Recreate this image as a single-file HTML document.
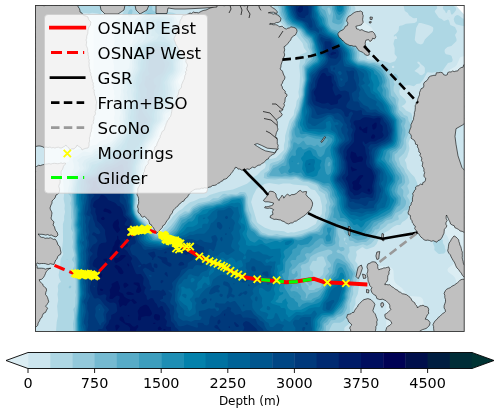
<!DOCTYPE html>
<html><head><meta charset="utf-8"><style>
html,body{margin:0;padding:0;background:#fff;}
body{width:500px;height:413px;overflow:hidden;}
svg{display:block;font-family:"DejaVu Sans","Liberation Sans",sans-serif;}
</style></head><body>
<svg width="500" height="413" viewBox="0 0 500 413">
<defs><clipPath id="mc"><rect x="35.5" y="5.5" width="428.7" height="326"/></clipPath></defs>
<g clip-path="url(#mc)">
<rect x="30" y="0" width="440" height="340" fill="#dbedf3"/>
<path d="M72 0l36.6 0l0.3 10l1.1 2.1l2 0.6l5 -1l2.6 -1.7l0.7 -2l0.1 -8l39.2 0l0 6l0.6 2l1.8 1.1l6 0.3l3.5 -0.4l1.5 -1l0.7 -2l0.1 -6l42.4 0l-0.1 9l-0.9 3l-1.2 1.6l-6 4.4l-3.4 5l-2.2 2l-3.4 1.7l-8 2.1l-2 2.2l-0.4 7l1 14l-0.2 18l-0.6 3l-1.3 3l-4.5 3.7l-0.4 1.3l4.6 5l0.9 3l-0.5 4l-1.6 2.8l-5 4.1l-2.3 10.1l-2.1 5l-5.6 4.8l-3 7.4l-6.2 3.8l-0.8 1.7l-1.8 9.3l-1.6 4l-1.6 1.5l-4 2.4l-1 1.8l-1.9 30.3l-1.6 4l-4.5 3.8l-0.8 2.2l1 15l0.8 2.3l6.4 3.7l7.6 7.5l2 -0.4l3 -2.5l9.5 -13.6l14.5 -14.1l10 -5.2l12.1 -2.7l8.9 -3l3 -2l4 -4l5 -3l3.4 -5l2.3 -2l4.3 -1.3l8 -0.3l3 -0.8l2.4 -1.6l7.6 -7.3l1.8 -8.7l0.2 -8l0.8 -5l0.2 -8l0.8 -5l0.2 -8l0.8 -5l0.1 -7l3.2 -39l1.1 -2l1.8 -0.9l7 -0.4l2.8 -0.7l1.3 -1l0.6 -2l-0.1 -18l-0.9 -2l-7.4 -8l-3 -5l-1.7 -7l-0.2 -11l199.6 0l0 56.2l-8 0.2l-2 1.1l-3.3 7.5l-1.7 1.7l-5 2.7l-3.3 5.6l-2.3 2l-3.4 1.2l-9 0.5l-2 0.7l-1.2 1.6l-1.8 7l-1.8 4l-2.2 2.6l-4.8 3.4l-0.7 2l1.5 2.8l5 3.6l1.5 3.6l-1 3l-4.2 4l-1.3 2.5l-0.5 10.5l-1.4 10l1.9 2.9l5.5 4.1l1.4 3l0.3 4l-0.1 35l-1.5 4l-3.6 3.5l-2 3.4l-0.4 4.1l0.4 6.5l1 2.2l4 3.6l1.6 2.7l0.8 10l1.6 2.9l3 1.1l9 -1.2l5 1.6l2.2 2.6l2.8 6.3l4.6 4.7l1.5 4l0 7l-1 4l-2.1 2.6l-4.8 3.4l-0.8 2l0.8 2l4.8 3.5l2.1 2.5l1 3l0.1 6l-0.3 3l-1.4 3l-6.5 5l-1.5 3l-0.3 36l-22.4 0l-0 -33l-0.8 -4.5l-1.1 -1.5l-1.9 -1.2l-10 -0.9l-3.6 -1.9l-4.4 -6l-5 -3.4l-2.2 -2.6l-0.9 -3l-0.4 -8l-0.8 -2l-2.7 -2.3l-4 -0.5l-13 0.1l-3 0.5l-1.9 1.2l-1.1 1.5l-0.8 5.5l0.3 4l1.5 3l5.6 4l4.4 6l5.6 4l2 3l0.6 5l0 33l-12.4 0l-0.1 -23l-0.5 -4l-1.2 -1.9l-2 -1.3l-5 -0.6l-4 0.8l-1.6 2l-0.7 3l-0.3 8l-0.7 3l-1.9 3l-6.2 4l-0.8 2l-0.1 5l-318.7 0l0 -193.2l38 -0.1l10 -2l11.7 -0.7l3.1 -2l0.8 -2l0.1 -114l-0.7 -2l-2.9 -2l-11.1 -0.8l-3 -1l-1.7 -1.2l-1.9 -3l-0.8 -3l-0.2 -10zM359.2 18l-2.4 2l-6.1 8l-0.7 3.1l1 6.7l2 1.6l8 2l8 1.6l2 -0.4l1.8 -1.6l0.8 -2l0.2 -6l-0.6 -3l-2.2 -2.9l-4.6 -3.1l-4.4 -5.7l-1 -0.5zM461 123.9l9 -0.2l0 52.5l-8 -0l-3 -0.6l-3.5 -2.6l-1.5 -3.7l-0.1 -38.3l1 -3l1.1 -1.6l2 -1.5z" fill="#cce5ee"/>
<path d="M77 0l26.5 0l-0.4 7l-2.1 6.9l-1 0.5l-2 -1l-6 -0.7l-3 0.9l-4 -0.6l-3 0.6l-2 -0.5l-0.7 -1.1l-0.3 -2.3l-2.2 -2.7zM125 0l11.5 0l0 3l-0.9 4l0.4 2.9l2 2.8l2 0.6l2 -0.9l2.4 -3.4l0.3 -2l-0.7 -3l0.9 -4l11.6 0l-0.4 8l0.9 1.8l1.5 1.2l14.5 1.8l4 1.4l5 0.9l2 0l5 -1.3l1.5 1.2l2.2 5l-0.6 2l-2.1 1.4l-3 1.2l-3 -0.8l-0.5 1.2l0.4 14l-0.6 3l1.5 5l0.8 6l-0.3 17l-0.9 3l-4.4 4.4l-2 3.6l0 1.2l2.7 4.8l1 3l-0.1 2l-3.1 4l-3 10l-4 7l-2.5 3l-1 4l-3.7 5l-4.3 4.1l-2.2 6.9l-1.9 4l-6.6 9l-1.2 4l-1.8 13l-0 5l-0.9 3l0.3 4l-2.7 4.7l-5 2.2l-1.4 3.1l-0.3 4l0.8 7l-0.6 8l2.5 7.3l1.9 2.7l6.1 5.3l7.2 8.7l2.8 1.5l4 -0.8l2.5 -3.7l3 -3l1.4 -3l3.1 -2.7l2 -3l6 -5.5l3.1 -1.8l2.9 -3l5 -3.8l4 -1.1l6 -2.8l6 -0.9l3.6 -2.4l10.4 -3.3l13 -2.1l14 -5.8l4 -3.2l2.7 -3.6l3.5 -2l3.8 -4l4 -2.9l0.9 -3.1l-1.7 -4l0.3 -1l1.5 -0.9l5 -0l5 -1.4l7.9 -7.7l-0 -5l1.1 -4l0.1 -5l3.9 -14l0.8 -2l3.9 -5l0.7 -5l1.6 -4.1l0.6 -4.9l2.5 -4l-0.7 -5l1 -5l0.7 -12l-0.9 -9l0.8 -5l-0.3 -5l0.3 -1l6.7 -3l-0.2 -1l-2.5 -3l-1.5 -5l-5.7 -7l-2.2 -4l-2.6 -2.2l-5 -1.1l-2 -1.2l-4.5 -5.5l-2.2 -4l-2.4 -3l-2.1 -9l0.7 -6l80.5 0l-1.7 4l2.1 4l-0.1 2l-4.3 6.4l-3 6.1l-1.9 5.5l2.4 11l2.5 2.8l5 1.7l7 6.4l3 1.6l1 2.5l-0.5 4l0.7 1l1.8 0.5l11 0.5l10 3l5 -1.7l1.8 -3.3l0.2 -1l-2.4 -3l0.1 -6l-1.3 -4l0.9 -4l0.7 -0.9l2 0l0.2 -1.1l-1.2 -2.5l-2 1.2l-0.2 -0.7l0.2 -1.1l2 -1.1l2 -2.2l0.7 -1.6l0.3 -3.4l1 -0.8l2 -0.2l4 -1.9l8.3 -0.7l2 -1l0.7 -1.3l0 -2.8l-3 0.4l-1 -0.4l-4 -2.7l-1.2 -2.2l-3 -2l-1.4 -6l1.1 -5l8 0l1.5 0.7l1.8 -0.7l19.9 0l-0.1 3l1.7 5l-2.5 3l0.1 1l4.1 5.9l2.7 1.1l2.3 2.1l4 -1.6l1 1.1l1.3 4.4l4.7 2l1.9 4l0 1l-1.9 3l1.5 4l0 2l-5.1 5l-3.9 1l-2.5 2.3l-0.5 1.7l0.5 2.1l1 1.2l4 0.7l1.6 1l1.1 4l-0.7 1.9l-4 1.1l-6 8.4l-3 0l-7 1.3l-4 -0.5l-1 0.6l-4 7.1l-3 3.6l-3.4 0.5l-2.6 2.2l-5 -1.2l-6 1.1l-2 1.3l-1.6 2.6l-0.1 2l0.7 2.7l5 4.6l1.3 2.7l-1.3 2.1l-2 1.5l-1.5 0.4l2.5 1.9l2 2.7l5.1 2.4l0.8 2l1 9l-0.3 7l-4.1 12l0.9 5l-0.1 2l-2.3 7l-2.3 3l1.5 3l0.8 5.3l4 5.3l3.5 3.4l2.5 5.4l1.2 5.6l-1.1 2l-2.2 2l-0.8 2l-0.6 3l-0 9l-2 5l-2.7 3l-0.9 4l-2.9 2.5l-2.6 1.5l-2.1 3l-3.3 -0.1l-4 2l-5 4.1l-2.4 1l-2.1 2l-3.5 2l-3.4 8l-2.6 2.7l-7 2.5l-2 -0.5l-2 -1.4l-1 -0l-5.5 3.7l-0.4 1l0.7 3l-1.7 6l2.4 3l0.2 4l1.8 3l0.4 8l-1.1 4l0.1 4l-1.1 7l-2.4 5l0.1 5l-2.2 5l0.4 4l-0.5 3l-2.2 3.9l-0.8 3.1l-5.2 4l-0.6 1l-0.4 9l-287.2 0l-0.7 -7l0.6 -8l1.3 -6l-0.9 -10l1.1 -6l-0.7 -6l0.7 -4l-0.5 -4l1.3 -3l2 -1l-1.8 -4l-0.6 -3l1.6 -9l0.5 -7l2.6 -5l-1.3 -4l1 -9l-0.1 -17l1.3 -4l-0.1 -4l1 -4l-0.6 -3l0.3 -4l-1.2 -6l0.4 -4l-1.4 -26l-1.7 -5l0.1 -0.5l3 -0.1l5 -1.9l0.9 -6.5l4.1 -4.5l6 -1.6l4 -1.9l5 -0.1l4 -1.7l3 -0.3l4 -3.6l6.5 -2.3l0.6 -2l3.3 -3l4.4 -13l-1 -3l1.1 -4l-0.5 -3l0.2 -7l-0.7 -4l0.8 -4l-0.7 -2l0.2 -3l-1.3 -3l1.2 -6l-0.7 -3l1.7 -5l-1.3 -5l0.2 -3l-0.8 -5l1.5 -3l-1.4 -2l-0.4 -2l2.1 -6l-0.1 -2l-0.9 -2l0.7 -3l-0.5 -5l1.5 -4l-1.7 -4l-0.5 -3l2.5 -5l1 -0.9l3.3 -1.1l1.7 -1.8l0.4 -2.2l2.1 -4l-0.4 -10zM418.8 23l-2.6 5l-1.5 12l2.3 3.3l4 1.2l2 -1.1l2 -4.1l7.5 -7.3l0.7 -2l0.1 -2l-0.5 -1l-3.8 -1.8l-8 -2.3zM417.4 62l0 1l2.3 2l0 1l-0.5 1l-4.8 4l3.6 1.9l2 2.2l2 0.1l2.8 -2.2l0.1 -5l-0.9 -1.5l-3.2 -2.5l-1.4 -2l-1.4 -0.4zM392.1 66l-0.4 1l0.8 1l1.5 0l0.4 -1l-0.4 -1.2zM264.3 184l-2.3 1.7l-3.2 1.3l-2.3 2l-3.5 6.7l-1.9 6.3l5.9 19.9l1 1.4l7 4.4l7 2.6l12 0.9l3 1.6l1 0.1l3 -0.6l3 0.3l13 -3.5l8.8 -5.1l1.5 -4l4.5 -6l0.2 -8l-2 -8.8l-5 -6.9l-4 -1.1l-4 -3.5l-14 -1.3l-3 -1l-7 0.1l-4 1l-10 -1.5zM446 0l6.5 0l0.3 5l3.3 3l-0 2l-2.2 3l-1.9 1.7l-1 -0.6l-0.9 -4.1l-2.2 0l-0.9 2.4l-1 0.9l-1 -2.3l-2 -2l-0.1 -2l2 -3zM457 15l2 0.5l4 3.3l7 -2.2l0 8.9l-3 1.3l-1 -0l-10 -2.5l-1.6 -2.3l-0.7 -3l1.3 -2.7zM449 16.9l0.5 0.1l-0.5 0.4l-0.2 -0.4zM439 237.8l2 0.1l1.8 2.1l0.1 3l1.8 3l0.1 2l0.9 2l-0.3 2l-1.4 1.4l-5 0.5l-1 -0.4l-3.7 -3.5l0.2 -3l-1.5 -3.6l0 -2l1 -1.1z" fill="#aed7e4"/>
<path d="M127 0l4.5 0l1.1 2l-0.6 2l-2 2.7l-1 0.1l-1 -0.6l-1 -1.4l-0.6 -2.8l0.1 -2zM149 0l4.9 0l-1.7 6l0.2 4l0.6 0.5l5 2.9l8 -0.1l3 1.2l4 0.3l2.7 2.2l3.6 8l-0.9 4l0.5 3l-0.3 4l1 6l1.3 4l0.7 7l1.3 5l-0.2 12l-6.4 10l-0.7 2l2.2 9l-3.3 12l-5.5 8.8l-3 1.6l-1 1.3l-0.3 1.3l0.8 3l-6.1 8l-2.1 4l-1.4 5l-6.1 8l-2.1 4l-1.7 5l0 3l-1.1 6l-2 4l0.5 3l-1.4 3l-0.2 2l1.2 4l-0.2 1l-1.8 1.9l-4 2.1l-1.6 4l-0.4 5l0.9 7l-0.8 8l1.9 6.9l2 3.2l4.4 3.9l9.5 11l3.1 2.1l4 0.3l3.3 -1.4l7.4 -7l8.3 -10.7l6 -4.1l3 0.5l1 -0.3l3 -4.5l6 -3.7l11.4 -2.2l3.6 -2.7l5 -0.1l5 -4.3l2 -0.2l3 1l3 -0.7l5 0.4l1.5 -0.4l2.5 -1.9l5 0.1l1 1.1l1.7 3.7l-0.2 6l1.8 8l2.1 4l-0 5l0.6 1.6l10 11.2l3 0.7l3.2 1.5l3.8 0.3l5 -1.2l3 1l7 1l8 -0.7l7 -1.4l6 -2.4l4 -1l4 -1.9l4.6 -4.7l4.6 -6l-0.3 -4l1.4 -4l-0.7 -5l1.4 -2.1l0 -1.8l-1.6 -4.1l-0.4 -2.8l-6 -3.8l-1 -3.5l-1.7 -1.9l-8.3 -3l-5 -0.2l-6 -3.2l-2 -0l-3 0.9l-12 -0.7l-5 0.7l-8 -0.6l-3.2 -0.9l0.6 -5l3.6 -2.1l1 -1.2l0.9 -5.7l2.1 -1.3l6 -1.6l3.3 -2.1l1.8 -4l2.9 -3.5l2.2 -5.5l-0.1 -4l0.9 -3l-0.5 -3l0.7 -5l2.4 -8l3.4 -5.5l0.9 -2.5l0.5 -3l1.8 -4l1.2 -7l2.1 -6l0 -6l1.9 -9l-0.8 -4l-0.3 -10l2.6 -3l0.9 -4l3.2 -1.4l1.3 -4.6l-0.2 -2l-2.4 -4l-0.1 -3l-6.6 -8.2l-2 -4.5l-6.4 -3.3l-5.6 -1.5l-5.6 -7.5l-2.7 -5l0.3 -5l-1.5 -3l0.1 -6l72.6 0l-0.3 3l1.1 5l-0.2 2l-2.8 6l-4.4 12l1.4 6.1l2.1 5.9l3.9 3.5l4 1.6l2.8 2.9l0.9 2l0.9 5l-0.5 3l0.9 1.7l4 0.3l4 1.3l7 0.6l6 2.2l3 2.1l3.1 0.8l3.1 4l-0.4 3l0.4 1l1.8 0.4l3 -1.8l2 1.4l1.4 2l-0.4 1.5l-3.6 1.5l-0.7 1l-0.1 1l1 2l-1 3l0 4l5.2 8l-0.7 5l1 6l2.9 2.3l2 2.6l3 1.1l0.9 1l0.7 4l1.4 2.1l0.4 1.9l-0.9 6l-3.5 9l0.5 7l-0.4 2l-2.1 4.2l-5 4.8l-0.3 1l1.9 6l3.4 3.7l1.1 3.3l2.6 4l1.6 5l0.1 2l-2.2 3l1.9 5l0.1 2l-2.5 3l2.6 4l0.5 2l-0.2 2l-1.6 5.3l-1 0.8l-3 0.6l-2.7 3.3l-2.5 1l-0.7 1l0.8 3l-0.8 1l-2.1 0.5l-5 2.7l-3 0.5l-2 2.5l-7 5l-2.6 3.8l-2 5l-3.4 3.8l-4 1.9l-4 -1.5l-7 2.4l-3 -0.6l-3 0.4l-0.9 0.6l0.5 5l-1.8 3l0 2l2.1 4l3.4 4l1.3 4l2 3l0.3 2l-0.5 3l0.4 3l-3.8 8l0.3 6l-1.7 4l-0.3 3l-1.7 3l0.3 8l-2.5 3l-0.6 2l-3.8 4.3l-3 1.5l-6 -0l-1.8 1.2l-2.9 6l-0.6 7l-254.7 0l-1 -13l1 -6l-0.1 -6l-0.6 -2l0.1 -1l1.6 -2.2l0.3 -1.8l0.1 -7l0.6 -3l-0.7 -3l0.5 -3l-0.1 -9l-0.7 -2.5l-1 -1.3l-2 -1l-0.5 -1.2l0.8 -4l2.1 -4l-0.4 -3.3l-2 -2.7l0.5 -2l1.5 -1.7l0.3 -1.3l-1.9 -8l0.7 -5l-0.8 -5l0.7 -4.4l-2 -3.6l0.7 -9l-0.6 -2l0.1 -11l-0.9 -4l0.7 -2l0.1 -3l-1.1 -2.5l-1.5 -1.5l-0.6 -2l0.4 -4l1.4 -4l-1.3 -7l3.4 -4l2 -5l-0 -3l-1.3 -5l0.5 -2.5l4 -1.6l5 -3.6l2 -0.8l7 1l3 -3.4l5 -1.6l3 -2.7l5 -1l5 -2.5l6.8 -9.3l1.5 -8l-1 -6l1.5 -5l-1.6 -5l1.7 -6l-0.9 -5l1.1 -4l-0.7 -11l2.6 -4l-1 -3l0.5 -1l6.7 -6l0.9 -9l-0.7 -4l0.4 -4l-0.3 -5l2.5 -2.9l3.1 -7.1l-1.1 -1.3l-1 -0.1l-3 1.2l-1.1 -0.8l2.1 -3.4l2 -1.6l-0.4 -3l1.9 -3l0.5 -4.6l3 -2.4l5 -1.8l3 -4l3.6 -2.2l-1 -4l-0.2 -5zM135.4 29l-1.5 1l2.1 1.5l1 -0.4l0.4 -1.1l-0.4 -1.4zM343.8 238l0.2 2.7l1 0l0.8 -2.7l-0.8 -0.6zM344.8 243l2.2 1.7l0.5 -0.7l-1.5 -1.3l-1 -0.3zM318 257l-1 1l-0.6 3l-3.4 -0.2l-1 1.1l-2.5 5.1l0.5 3.1l3.1 1.9l0 6l0.8 1l1.1 0.3l3 -0.3l4.6 -4l0.8 -2l0.3 -5l2.5 -3l0 -1l-2.6 -7l-1.6 -0.8zM428 0l1 0l-1 0.7l-0.7 -0.7zM131 8.9l1.4 1.1l0.1 2l-1.2 4l-1.3 0.9l-1.7 -0.9l-0.7 -2l1.4 -3.4zM67 259.5l0.7 0.5l-1.2 0zM70 285.6l1 0.3l0.4 1.1l-1.4 1.5l-1 -0.4l-0.4 -1.1z" fill="#93c9db"/>
<path d="M281 0l67.4 0l-0.2 3l0.9 4l-0.3 2l-3.9 10l-0.9 4.2l-2.8 5.8l4.2 11l4.6 4.2l4 2.1l1.5 1.7l1.6 4l0.1 6l0.8 2.3l1 0.7l5 0.3l5 1.6l5.1 0.1l6.9 3.3l3.8 2.7l1.2 4.4l3.4 6.6l1.6 15.2l1 1.2l2 0.6l1.6 2l0.4 4l1.3 4l0.3 5l3.4 4.6l4 1.7l0.7 1.7l-0.3 3l-1.3 3l1.4 4l-0.1 5l-1.7 4l-0.1 5l-2 4l-2.7 2l-1.9 2.8l-2 1.2l-0.5 1l0.4 5l1.8 3l0.8 3l2.7 3l0.8 2l3.4 5l0.8 6l-0.3 1l-1.3 2l-2.5 2l0.1 1l1.8 1.7l0.4 1.3l-0.3 5l3 5l-0.2 3l-0.8 2l-1.6 2l-3.8 3l-4.2 2l-3.5 6.1l-6 1.3l-3 3.2l-2.5 1.4l-1.5 3.5l-2 1l-2 0.1l-1.1 2.4l-3.2 3l-0.1 3l-4.6 4l-4 0.1l-5 1l-2 -0.4l-2 -1.8l-3 -0.1l-1 -0.8l-0.4 -3l-3.8 -4l-1.8 -4l-1.2 -1l-2.8 -0.8l-1 0.5l-0.7 1.3l0.4 5l1.8 5l-0.7 4l0.2 3.1l1 1.1l3 -0.3l1.3 1.1l0.3 1l-0.6 1.4l-3 1.2l-2 -1.9l-1 -0.1l-1.5 1.4l0.2 1l1.3 1l3 0.6l3.1 2.4l1.7 4l3.9 4l1.2 3l4.1 5.8l0.2 1.2l-2 5l-0 5l-2.2 3.7l-0.1 3.3l-1.2 4l-0.2 3l-2.1 5l-0.3 5l-3.1 6l-3 2.2l-3.3 0.8l-2.7 2.9l-4 0.4l-3 4.4l-2 1.1l-0.4 11.2l-250.3 0l-0.3 -12l0.4 -10l1.7 -13l0 -23l-0.3 -5l-1.5 -4l0.4 -5l-0.7 -6l0.5 -4l-1.3 -7l0.2 -15l-1.2 -8l0.3 -6l-1.1 -15l0.1 -5l-0.5 -4.8l-1.2 -4.2l0.9 -5l0 -4l-0.7 -3l1 -2.1l6 -4.9l1.4 -2l0.3 -1l-1.3 -3l0.4 -2l-0.8 -1.4l-1 -0.3l0.2 -1.3l5.8 -4.3l2 0.2l7 -1.3l3 -3.4l4 -1.1l5 -3.8l6 -0.8l5.7 -5.5l2.5 -4l4.3 -5l0.3 -1l-0.7 -4l0.9 -9l-1 -9l1.8 -5l-0.7 -4l0.7 -4l-1 -5l1.2 -3l-0.2 -5l1.5 -3l0.7 -3.6l4 -2.3l1.6 -3.1l0.7 -4l-0.4 -4l0.9 -4l-1.1 -4l0.3 -5.8l3 -4.4l2 -1.8l1 -2l2.8 -3l-0.3 -5l2 -2l0.3 -1l-2.9 -4l-0.1 -2l0.5 -2l1.8 -3l5.9 -4.9l6 0.6l4 1.7l7 -0.6l8.4 2.2l0.8 2l0.7 9l1.5 4l-1.6 4l0.2 1l2.3 4l1.8 8l0.3 5l1.9 4l-1.4 6l0.4 4l-0.7 3l-5.8 11l-0.1 3l1.4 6l-2.1 11.6l-9 10.1l-0.9 2.3l-0 4l-0.9 2l-4.4 6l-2.1 4l-2.1 6l-6.5 8l-2.1 6.3l-1.7 9.7l-2.2 4l0 4l-1.4 5l1 4l-0.3 1l-3.9 3l-1.5 3l-0.7 6l0.7 8l-0.5 9l1.5 5.9l2.7 4.1l8.1 8l5.4 7l3.8 2.6l4 0.4l5.1 -2l3.3 -2l4.5 -5l7.1 -10.6l5.1 -2.4l3.9 -1l1.3 -1l2.7 -3.7l6 -3.4l19 -4.6l7 -3.5l7 -1.5l5 0.1l5 -1.4l2 0.2l1.9 2.8l0.7 13l2.5 7l1 5l2.9 4.5l4.5 3.5l2.5 3.3l2 1.2l7 1.6l7 -0l4 0.7l15 -0.1l6 -0.8l8 -3.3l6 -1l3 -1.1l9.5 -12.5l2 -6l-0.5 -5l1.6 -3l-2.1 -6l-0.6 -4l-1.2 -2l-5.7 -3.8l-3 -3.7l-3 -1.5l-6 -1.9l-5 -0.6l-8 -3.4l-5 0.5l-22 -0.1l-1.5 -0.5l-0.8 -1l0.1 -2l2.9 -3l3.3 -5.8l4.5 -1.2l6.4 -5l0.8 -3l2.3 -3.3l3.1 -6.7l-0.4 -4l1 -4l-0.1 -6l3.7 -11l4.7 -11.2l1.4 -7.8l2.2 -7l0.1 -6l1.7 -9l-0.5 -13l3.8 -5l3.3 -3l1 -6l-0.2 -2l-1.5 -3l-0.3 -4l-1.3 -3l-0.7 -1.2l-4 -3.1l-3.3 -5.7l-1.7 -1.4l-11.6 -4.6l-6 -9l-0.9 -3l0.2 -4l-0.9 -5l0.4 -4zM327.7 8l-0.4 1l0.7 3l1 2.4l1 0.5l1 -2.9l-1 -3.5l-1 -1.2zM326.2 250l-8.2 2.6l-5 2.3l-2.7 2.1l-1.9 5l-3.4 2l-3 0.6l-1.2 1.4l-0.2 1l1.1 2l-0.9 3l0.4 4l-0.9 3l0.4 1l4.7 3l1.6 2.1l1.7 0.9l-0.4 3l0.9 1l4.8 0.1l2 -1.5l3 -0.6l2 -1l1.3 -4l2.8 -3l0.4 -4l3.7 -4l-0 -1l-1.4 -2l0.2 -0.9l2.5 -1.1l0.6 -2l-1 -2l-2.6 -3l-0.4 -3l1.6 -2l3.3 -1.3l0.5 -1.7l-0.5 -1.1l-2 -1.2l-2 -0.2zM308 277.1l1 0.2l1 1.3l2.3 4.4l-0.3 1.5l-1 0.9l-2 0.2l-0.5 -1.6l-2.2 -2z" fill="#75bad1"/>
<path d="M282 0l45.5 0l-1.5 1.9l-3 1.6l-1.6 3.5l0.6 1.6l2.6 1.4l0.8 1l2.5 8l0.5 5l2.3 4l1.3 1.2l4 1.1l5 3l2.3 3.7l1.7 4.8l8.5 6.2l1.9 5l0.1 6l1.5 2.3l2 0.9l5 0.4l5 1.5l5 0.7l6 2.8l2.6 2.4l4.3 10l-0.7 6l1.8 2.7l0.7 2.3l-0 6l6.4 9l0.6 2l-0.1 4l0.9 2l6.1 7l-1.7 3l1.6 6l-1.2 6l0.1 5l-2 6l-3.4 3.5l-2.8 1.5l-0.7 1l-0.8 7l6.3 11.6l2.4 2.4l1.4 3l0.3 5l-0.5 1l-2.6 1.7l-0.7 1.3l-1.2 6l0.8 2l2.1 2l1.1 2l-0.9 7l-3.2 2l-5.4 9l-6.5 3l-3.1 2.6l-3.4 1.4l-1.7 2l-3.9 2.4l-1.5 3.6l-2.9 3l-1.6 4l-2 1.3l-7 1.1l-6 -2.9l-4.3 -4.5l-1.1 -4l-1.6 -2.1l-6 -2.8l-2 -0l-1.2 4.9l0.1 7l-1.1 3l0.7 4l-0.4 1l-3.1 2l-5 0.7l-2 -0.6l-3 -2.1l-1 0.2l-2 2.7l-4 1.8l-4 4.4l-1 0.5l-3 -0.6l-1.7 1l-0.4 1l1.6 3l-0.1 1l-3.4 2.9l-3.8 1.1l-4.2 5l-3.3 2l0 3l1.3 1.1l1 0.1l1 -0.9l1 -2.4l1 0.3l0.7 2.8l-0.2 2l-3.5 2.8l-0.6 2.2l1.6 1.3l3 -0.4l2.3 1.1l1.7 6l3.6 4l0.6 2l-0.7 3l0.5 0.4l1 -0.4l1 -3l2 -1.8l7 -1.2l5.7 -4l1.9 -4l3.3 -4l1.2 -4l3.1 -3l1.4 -10l2.4 -4.2l2 -0.2l3 1.2l6 4.1l2 4.1l2.7 3l1.5 3l-3.8 12l-0.1 4l-1.5 4l-0.1 4l-2.2 6l-0.6 3l-2.1 5l-1.8 1.7l-4 1.3l-3 2.6l-5 1.1l-2 3.4l-3 1.7l-0.4 1.2l0.2 4l-1.4 4l0.3 4l-246.6 0l0.1 -18l1.7 -16l0.2 -16l-0.3 -12l-1.5 -6l0 -14l-1 -6l0.1 -16l-1.1 -8l0.4 -6l-1 -19l-0.4 -6l-0.9 -4l1.2 -8l0 -4l2.3 -3l7.6 -6l0.3 -1l-1.5 -3l0 -1l2.1 -4l4.6 -2.2l4 -1l3 -2.6l4.8 -1.2l6.2 -4.7l5 -0.8l9 -11.8l4 -4l0.3 -1.7l-1.4 -4l0.2 -5l1.1 -4l-0.7 -9l2.6 -4l1 -5l-1.5 -7l0.9 -2l0.1 -2l-1.5 -5l3.4 -6l2.9 -4l2.2 -6l-0.6 -5l0.9 -5l-1.4 -6l0.2 -2l3.8 -4l5.1 -3l2.4 -3l1 -2l-0.2 -1l-1.5 -2l0 -1l1.6 -2l0.4 -2l-3.5 -7l1.2 -2.1l4 -0.8l3 -2l2 -0.6l3 0.8l4 -0.6l6 0.2l6 1.9l0.3 2.2l-1.4 4l2.4 7l-1.7 3l-0.1 2l0.5 1.1l3.3 2.9l2.2 9l0.3 5l1.6 4l-1.8 5l0.2 5l-0.5 3l-5.8 10l-0.2 2l1.3 7l-0.1 5l-1.2 5l-4.5 6l-4 4l-1.2 3l-0.1 5l-0.6 2l-4.2 5l-4.7 10.7l-6.2 7.3l-1.4 4l-1.6 9l-3.2 8l-1.3 9l0.2 4l-2.9 4l-1.5 4l-0.4 6l0.6 7l-0.4 9l1 5l3.1 5.2l8.5 8.8l2.8 5l6.7 5.4l4 -0.1l4 -1.4l3 -0.4l7 -6.3l6.5 -11.2l4.5 -1.3l5 -3l4 -4.4l6.6 -3.3l18.4 -4.4l6 -3.3l7 -1.9l5 -0.1l4 -0.8l3 0.4l1.1 2.1l0.4 12l4.5 14.2l2 3.3l4.8 3.5l3.2 3.7l2 0.9l6 1.3l11 0.9l13 -0.6l4 0.4l6 -0.8l8 -3.3l9.5 -1.5l2.7 -5l7.5 -9l1.9 -6l-0.2 -4l2.4 -4l-1.5 -4l-2.1 -3l-0.4 -5l-2.8 -3.4l-4 -1.5l-4 -3.2l-3 -1.5l-7 -2.3l-5 -0.9l-6 -2.7l-3 -0.6l-5 0.5l-5 -0.6l-3 0.6l-12 -0.6l-1 -0.8l4 -6.5l5 -2.4l6 -3.8l2.5 -6.3l4.6 -9l0.4 -2l-0.5 -3l1.6 -4l-0.7 -4l0.9 -5l2.1 -4l0.6 -4l4.3 -11l3.5 -15l0.2 -6l1.7 -9l-0.3 -12l1.1 -2l6.5 -6l1 -6l-1.5 -6l0 -4l-2.2 -5l-4.8 -3.4l-4 -5.9l-12.8 -5.7l-3 -4l-2.9 -8l-1 -9l0.3 -3zM296.4 287l0.6 1.5l1 -0.3l-0.1 -1.2l-0.9 -0.5zM333 0l14 0l-0.2 3l0.6 4l-1.5 6l-2.5 5l-1.4 4.9l-3 1.6l-2 -0.2l-3.6 -1.3l-1.3 -1l1.1 -8l-1.3 -5l-0 -5l0.7 -4z" fill="#57abc7"/>
<path d="M283 0l36.3 0l0.1 8l1.6 3.4l4.6 6.6l1.3 7l4.1 5.3l4 1.6l6 3.8l3 6.6l8.4 6.7l1.4 5l-0.1 5l1.2 2l3.1 2.1l6 0.8l10 3l6 4.2l3 3.6l1.2 2.3l1 5l-1.6 4l2.4 4l0.2 7l3.5 6l3.1 3l1.5 7l4.2 6l0.8 2l0.3 19l-1.2 5l-0.4 1.1l-2 2.2l-6 2.7l-0.5 1l0.5 4l-1.2 5l0.3 1l2.4 2l1.3 3l1.7 2l1.4 4l2.6 3l0.8 2l-0.1 1l-1.4 2l-3.3 10l1.3 3l2.6 4l-0.2 5l-3.2 3.9l-4 7.1l-9 5.3l-8 2.9l-4 6.3l-3.8 2.5l-0.7 3l-1.5 1.5l-8 0.7l-3 -1l-3.2 -4.2l-2.4 -5l-0.5 -3l-0.9 -1.1l-7 -0.8l-1.9 -1.1l-1.1 -1.8l-2.3 -0.2l-0.6 -1l0.9 -4l-0.5 -4l2.2 -4l-0.4 -5l-0.8 -2l-2.1 -2l-0.7 -5l-2.7 -5l-6 -0.7l-5 -3.2l-8 -2.8l-5 -0.9l-6 -3l-5 -0.9l-3 0.7l-1.9 -0.2l-4.1 -2.4l-3 1.5l-0.8 -0.1l-2.4 -4l-0.3 -1l3.5 -2.9l3 0l1.3 -1.1l0.4 -4l1.2 -4l2.3 -5l2.3 -3l0.9 -6l0.6 -0.8l2 0.6l2 1.8l1.4 -0.6l3.6 -3.2l1 0.2l1.8 3l1.2 0.9l4 -0.1l3 1.5l1.3 -0.3l1.7 -1.4l1 0.3l1.7 2.1l1.3 0.3l4 -2.3l3 -5l-1 -1.5l-2 0.2l-3 1.3l-3 -1.2l-3 -0l-8 -2.6l-1 -0l-4 2.2l-3 -1.1l-3 0.1l-1 -0.9l-1.2 -2.5l-0.3 -5l1.5 -3l0.4 -4l1.5 -3l2.4 -8l3.6 -16l0.3 -6l1.7 -10l-0.2 -10l1.3 -2.3l7.6 -5.7l1.3 -2l-1.3 -7l-1.3 -4l-0 -4l-2.3 -5.5l-5 -3.6l-4.4 -5.9l-10.9 -5l-4.7 -5l-0.4 -3l-1.7 -5l-0.1 -4l-1.1 -4zM329 162l-1 1.1l-0.4 1.9l0.4 1.2l1 0.1l1 -0.9l0.4 -1.4l-0.4 -2zM334 0l11.6 0l0.1 7l-0.6 4l-1.1 2.9l-4 5.8l-2 0.2l-1.7 -0.9l-0.4 -3l-2.4 -7zM158 18.8l2 -0.3l4 1l2.1 2.5l0.4 3l2.4 6l0.1 1l-1.6 3l0.2 1l1.6 3l3.9 3l0.5 3l2.5 6l0.1 5l1 3l-1.5 5l0.4 6l-1.7 4l-3.3 4l-1.6 4l1.4 8l-1 4l-0.3 5l-4.6 6.9l-5 4.1l-0.6 2l0.4 7l-0.6 2l-4.2 4.9l-4 9.6l-3 4.3l-3.2 3.2l-1.8 5l-1.3 8l-4.3 11l-0.4 11l-3 6l-0.8 6l0.5 9l-0.4 9l1.8 7l2.7 4l7.7 8l2.5 5.4l7 6.7l6 -0.5l3 -1.2l3 -0.1l2 -0.7l7.3 -6.6l5.5 -10l4.9 -2l4.3 -3.4l3 -3.5l3 -1.1l3 -2.2l5 -2l8 -1.1l7 -1.8l4 -3l9 -2.6l9 -0.7l2 1.3l0.5 2.1l0.3 11l4.2 13.3l2 3.9l4.1 2.8l3.9 4.3l2 1.1l6 1.4l12 1.1l4 -0.8l9 -0.2l5 0.8l6 -0.9l8 -3.4l6 -0.4l3 1.5l2 -1.1l1.1 -1.4l-0 -4l0.9 -2.1l5 -5.2l1 -0.5l1 0.4l2.8 4.4l0.4 2l-0.1 4l-1.8 11l-1.3 0.8l-5 0.5l-1.5 -1.3l-1.5 -4.6l-3 -0.2l-5.1 3.8l-1.9 2.6l-4 2.7l-4 -0.3l-2.8 2l-1.4 2l-0.8 3.4l-2.8 1.6l-0.8 1l-0.4 2.7l-1 0.4l-3 -0.1l-1.5 1l-0.2 1l1.7 3l-0.2 1l-2.6 3l-0.4 6l-0.8 3l1 5.5l3.4 1.5l-0.4 1.8l-1.6 2.2l-0.1 1l0.7 1.6l3 -0.7l3.1 1.1l3.9 4l-0.3 3l2.3 1.4l2 0.4l4 -0.6l2 0.3l2 -1.9l5 -1.9l1.8 -1.7l4.8 -7l2 -4l3.7 -4l1.7 -4l2.3 -3l1.7 -7.4l1 -2l1 -0.8l1 0.1l5.7 2.1l1 1l1.3 4l1.3 2l1.3 5l-0.3 2l-1.7 3l0.2 8l-1.5 4l0.3 3l-0.6 2l-3 8l-4.6 5l-5.4 4.4l-4 0.7l-2 0.9l-4.6 5l-0.4 5l-2 3.4l-0.5 5.6l-242.6 0l-0 -18l1.6 -16l0.3 -9l-0.3 -19l-1.4 -6l-0.1 -14l-0.8 -6l0.1 -19l-1.1 -5l0.7 -7l0 -8l-1.1 -6l-0.3 -10l-0.9 -4l1.9 -11l1.8 -3l8.1 -6l0.9 -2l-0.6 -4l0.9 -2l3.4 -2l8 -3l11 -6.6l4.1 -1.4l3.1 -4l3.8 -3.8l6.8 -9.2l0.4 -2l-1.7 -5l0.2 -4l0.9 -4l-0.3 -4l0.6 -5l3.1 -5.7l2 -2.3l-1 -10l-2.2 -6l3.4 -6l4.6 -10l-0.7 -6l1.1 -4l-1.7 -8l0.5 -1l4 -3.5l6 -3.6l4.8 -1.9l3.2 -2.4l0 -1.7l-2.8 0.1l1 -9l0.8 -3l-1.5 -2l0 -1l1.5 -1.2z" fill="#3c9ebe"/>
<path d="M284 0.3l33.8 -0.3l0.5 9l2.2 6l2.5 2.2l1.1 1.8l0.7 4l1.2 3l4 5.3l10 5.3l3.2 6.4l7.8 7l1 5l0.1 4l1.3 2l2.2 2l2.4 1.2l9.1 1.8l6.9 2.8l4.6 4.2l3 4l1.1 5l-1.4 4l1.6 4l-0.6 3l0.4 2l8.4 12l0.8 5l5.4 8l0.6 19l-1.5 6l-1.6 2l-5 2l-2.9 2l-2.3 7l0.1 1l3 5l2 2l2.7 4l2.9 6l-0 6l-3.3 5.6l-0.7 2.4l1.7 5.1l3 2.8l0.5 1.1l-0.5 3.6l-4 7.4l-2 2.2l-6 3.8l-3 0.9l-4 2.3l-5 1.5l-9 10.3l-2 1.5l-2 0.4l-2.8 -0.9l-5.9 -6l-1.4 -4l-1.6 -2l-3.3 -1.9l-3.6 -0.1l-1.2 -5l-1.7 -4l-0.3 -10l-2.3 -4l-0.9 -4l-4 -7.2l-2 -0.8l-4 0.6l-4 -2.2l-6 -2.2l-9 -2.1l-1.5 -1.1l-2.5 -3.4l-4 0.7l-4 -1.5l-3 1.4l-1 -0.5l-1 -1.7l2 -3l-1.4 -6l0.4 -2.6l3 -4l3 0.5l1 -0.9l-0.3 -4l2.3 -3.5l3 -0.4l1.5 1.9l1.5 0.6l2 -0.5l3 -1.8l2 0.3l5 2.8l2 5.1l1 1.1l2 0.4l3.1 -3l1.5 -5l5.6 -6l1.3 -3l-0.5 -1.5l-4 -2.7l-7 1l-10 -1.6l-5 -1.5l-5 0.6l-1.2 -1.3l-0.3 -3l-1.8 -3l0.3 -4.3l1.9 -4.7l4.6 -23l0.3 -6l1.8 -10l-0.2 -5l0.5 -5l6.1 -5.3l4 -2.4l0.8 -2.3l-3.2 -11l-0.4 -4l-2.3 -6l-5.3 -4l-2.7 -4l-2.9 -2.6l-9 -4.1l-4.1 -4.3l-2.7 -9zM326.8 157l-1.3 2l-1 6l0.8 6l1.1 3l1.6 1.1l2 -1.3l0.9 -1.8l1.1 -10l-0.6 -2l-2.4 -3.2zM297.2 163l-0 1l0.8 0.6l1.3 -0.6l-0.3 -1.4zM336 0l7.8 0l0.4 6l-0.4 5l-1.8 2.5l-3 1.7l-2 -1.9l-1.8 -4.3l0 -9zM157 20.8l3 -0.3l2.1 1.5l0.4 2l-1.3 4l2.9 3l-0.1 1.3l-1 1.2l-2 -0l-2 1.4l-3.4 -2.9l-0.8 -2l0.2 -1.1l2.3 -1.9l-1.3 -5zM159 35.3l6 2.4l2.8 3.3l2.2 1.2l4.2 7.8l0.6 2l-0.3 5l0.4 3l-0.7 4l0.4 6l-1.6 3.6l-3.1 2.4l-2.6 6l1.1 8l-0.8 9l-3.6 4.5l-5 4l-1 1.5l-1.3 4l0.2 8l-3.1 4l-2.8 7.6l-7.2 9.4l-2.4 6l-1.2 8l-1.7 3l-1.4 5l-1.1 2l-0 11l-2.9 8l-0.4 6l0.2 18l1.6 6l2.6 4l7.9 8.9l2 5.1l4.1 4l1.9 3l9 0.9l2 -1.6l5 -1l4.2 -2.3l4.8 -5.2l4 -7l3 -1.7l3 -2.9l3.1 -1.2l3 -4l3.9 -2l3.1 -3l4.9 -2.2l7 -0.8l4 -1.4l3.9 -0.6l3.1 -2.3l4 -1.2l4 -1.9l9 -0.8l1.1 0.2l1.1 1l0.7 12l5.5 17l1.6 2.6l3 1.4l3.2 4l9.8 3.5l3 -0.4l10 1l3 -1.1l9 -0.4l6 1.8l4 -0.6l8 -3.6l2 -0l0.7 0.8l-0.5 2l-4.2 5.1l-7 1.1l-3 -1.3l-1.8 4.1l-2.8 1l-1.1 1l-0.2 3l-6.7 9l-0.6 10l-0.8 1l-2.3 1l2 5l1.5 2l-1.1 6l5.9 9.5l1 1l3 1.3l1.2 2.2l2.8 2l0.1 3l0.9 0.9l1 -0.1l2.5 -2.8l4.5 -1.6l5 0.4l1.8 -0.8l2.2 -2.3l4 -1.5l8 -13.3l3 -2.9l3 -4.5l2.1 -1.5l1.8 -7l1.1 -1.3l2 -0.8l1.6 1.1l2.4 4.6l1.5 5.4l-1 3l1 8l-1.4 5l0.1 4l-3.6 8l-8.6 9l-10 2.5l-2.9 4.5l0.2 4l-1.8 3l-0.5 5.5l-1.7 2.5l-238.7 0l0.4 -4l-0.4 -14l2 -25l-0.5 -19l-1.3 -6l0.3 -9l-1.3 -18l0.6 -12l-1.1 -5l0.8 -7l0.3 -9l-1.3 -5l-0.2 -10l-0.9 -4l1.9 -10l2.1 -3.2l7.9 -5.8l2.1 -4l0.7 -4l5.3 -2.1l5.3 -0.9l2.7 -4.2l2 -1.2l4 -0.6l2 -2l3 -1.6l7.5 -7.4l6.3 -10l1 -3l-1.2 -4l0.6 -3l-0.2 -8l0.9 -4l0.1 -3l2 -3.3l3 -2.2l0.7 -2.5l-1.3 -4l0.1 -3l1 -3l-1.7 -5l2.4 -9l3.4 -7l-0.6 -6l1.1 -5l-1.3 -7l4.4 -5l4.8 -2.7l9 -3.5l1 -0.8zM327 227.8l3 -0.4l1.3 0.6l0.3 1l-2.2 5l1.5 3l0.1 2.5l-0.7 1.5l-1.3 0.6l-2 0l-0.8 -0.6l-0.7 -3l0.4 -2l2.5 -2l-1.3 -3zM295 295.9l0.2 0.1l-0.2 0.6l-0.4 -0.6z" fill="#1e8eb4"/>
<path d="M286 0l30.8 0l0.5 4l-0.4 5l2.4 7l2.3 3l0.8 4l6.3 9l10.3 5.6l2.9 5.4l6.8 7l1.5 5l0.2 4l1.4 2l2.2 2l4 2.4l4 0.4l4.1 1.2l6.4 3l1.1 1l0.9 3l2.5 1.6l2.6 7.4l-0.6 2.8l-1.8 2.2l0.2 2l2.6 3l1.7 4l6.6 9l2.5 7l4.1 5l1 2l0.8 15l-0.6 6l-1.4 3l-1.7 1.9l-8.4 4.1l-1 1l-0.9 4l-1.6 4l0.3 1l3.6 3l8 13l0.6 5l-3.7 5l-0.7 4l0.9 5l1.1 2l2.8 2.9l-0 1.1l-4 8l-9 4.9l-3 2.2l-3 0.8l-9.4 5.1l-2.5 4l-2.1 1.7l-4 -3.6l-2 1l-1.3 -0.1l-2 -3l-9.4 -9l-1.4 -3l-1.5 -6l-0.1 -6l-1.8 -3l-1.1 -4l-2.7 -4l-3.4 -7l0.1 -3l2.8 -6l0.6 -3l-0.7 -4l0.3 -3l-2.2 -6l-0.8 -5l1 -4l2.9 -5l0.1 -3l-0.6 -2l-1.8 -1.3l-5 -1.2l-8 1.3l-16 -3.4l-0.9 -1.4l-0.3 -2l-1.8 -2.8l-0.1 -2.2l1.7 -5l0.5 -8l1.5 -6l1.6 -10l0.2 -4l1.9 -11l-0.2 -4l0.5 -4l1.1 -2l4.3 -3.7l5 -3l1.1 -3.3l-1.9 -5l-0.3 -3l-2.1 -8l-2.3 -6l-5.5 -4l-2.8 -4l-3.2 -3l-8.5 -4l-3.7 -5l-2.6 -9l-0.8 -6l0 -2zM337 0.2l4.6 -0.2l1.2 5l-0.1 4l-0.7 2l-2 1l-2 -0.7l-0.6 -1.3l-1 -5zM155 41.9l4 -0.5l5 0.7l4 1.5l1.7 1.4l3.6 7l-0.9 6l0.8 11l-1.1 3l-3.8 3l-1.7 4l-2.2 3l-0.1 1l1.1 3l-0.2 3l0.6 4l-0.7 6l-8.1 7l-3 8l0.5 7l-2.3 4l-1.1 5l-1.1 1.7l-3.6 3.3l-3.1 5l-3.3 6.9l-2.3 3.1l-0.5 3l0.2 3l-1.3 6l-1.5 4l-0.4 6l0.6 5l-2.4 10l-0.1 22l0.9 4l1.2 3l1.9 3l7.6 9l2.1 5.5l4.2 6.5l2.8 1.3l5 0.3l4 1l3 -1.8l5 -1.1l4.7 -2.7l8.3 -9.4l1.7 -2.6l4.3 -3.6l3 0l1 -0.7l1.5 -1.7l1.9 -4l3.6 -2.1l3 -2.9l10 -2.6l4 -1.7l6 -0.9l5 -2.1l4 -2.6l7 -1.1l2 0.6l1.6 5.4l0.9 9l4.1 15l-1.2 5l1 3l2.6 3.7l4 1.9l1 0l4 -3.3l3 1.1l2.1 2.6l1.9 0.7l9 -2.8l2.3 0.1l2.7 1.4l4 -2.4l8 -0.5l1.4 0.5l0.8 1l-0.4 2l-0.8 1.1l-3 1.9l-2 2.1l-3 1.6l-1.6 2.3l1.6 5l-2 2.5l-0.4 1.5l0.7 4l-0.3 4.4l-1 1.1l-2 1l-0.9 1.5l1.5 5l-0.5 3l0.6 3l-1.9 6l1.2 1.9l1 0.5l2 -0.4l0.3 1l-0.4 1l-3.9 2l-0.9 3l-2.5 2l0.2 1l2.2 0.7l4.1 0.3l0.4 -2l3.5 -2.7l0.5 2.7l1.5 2l-1.2 2l1.2 3l2 1.8l3 0.6l3 -0.6l5 -0.1l9.9 -4.7l6.1 -1.5l3 -1.6l1.9 -1.9l2.2 -4l1.9 -5.3l2 -2.7l5 -4.2l1.4 -3.8l3.9 -2l2 -5l1.7 -0.5l1.5 1.5l1.1 3l-2.1 4l2.5 3.7l0.3 3.3l-0.4 3l-1.4 4l0.1 3l-0.7 2l-3.8 6l-6.1 7.4l-2 0.9l-9 1l-4 4.2l-0.7 1.5l0.3 4l-1.3 4l0.5 4l-2 4l-236.5 0l0.6 -4l-0.5 -14l2 -25l-0.6 -20l-1.3 -6l0.5 -8l-1.3 -18l1 -12l-1.3 -5l0.9 -7l-0.3 -4.2l0.7 -3.8l-1.1 -6l-0.7 -14l0.8 -8l1.3 -3l2 -2l7.6 -5l2.3 -4l1.1 -3.3l4 -0.8l6 -2.8l3 -3.5l4 -1.2l3 -2.3l7 -3.4l1.6 -1.7l1.4 -3l2.6 -3l1.4 -4l3.5 -6l1.1 -3l-0.4 -4l1.3 -4l-1.8 -4l1.1 -4l0.2 -4.5l4 -5.2l1.1 -3.3l-0.3 -6l0.9 -4l-1.2 -6l1.2 -7l3.6 -9l0.1 -6l0.9 -3l-0.7 -4l0 -5l3 -4l5.3 -3zM308 150.6l2 -0.3l1 0.7l2 4.5l2 0.9l2.9 2.6l3 1l0.7 1l-1.7 4l0.8 3l-2.3 3l-1.1 4l-1 1l-3.3 1l-7 -1.4l-3.9 -6.6l0.9 -7l-1.9 -3l0 -1l2.6 -3l0.4 -2zM292 160.7l0.8 0.3l-0.8 0.7l-0.3 -0.7z" fill="#0381ab"/>
<path d="M287 0l28.8 0l0.4 4l-0.7 4l0.2 2l1.9 4l0.6 4l2.4 6l3.4 2.9l3.7 6.1l9.2 5l3.5 5l5.8 6l2.2 4l0.2 6l2.4 3.2l7 4.4l4 0.4l4 1.4l4.8 3.6l0.4 2l-0.4 4l2.7 6l-0.5 7l4.5 3l1.5 3l4 4.1l3.4 4.9l1.4 4l3.2 5.7l3.7 4.3l0.7 15l-1.3 7l-1.1 1.7l-2 1.5l-4 2.4l-4 1.4l-1.1 1l-4 10l1.1 1.8l2.6 1.2l2.4 2.7l7.6 12.3l0.1 2l-3.2 4l-1.8 5l3.3 10l-0.3 4l-1.9 4l-1.8 1.6l-6 2.9l-3 2.2l-16 7.2l-3 -1.9l-1.8 0l-2.2 0.9l-1 -0.3l-4.3 -2.6l-4.2 -5l-1.8 -3l-1.2 -5l-0.5 -7l-8.5 -16l-0.1 -5l2.6 -4.5l0.6 -3.5l-0.8 -4l0.5 -3l-2.1 -7l-0.5 -5l0.2 -2l2.2 -3l1.1 -4l-1.2 -5.2l-2 -1.6l-6 -2l-5 1.1l-3 0l-4 -1l-7 -0.2l-2.8 -2.1l-2.5 -5l0.8 -4l-0 -11l1.4 -7l1.1 -12l2.1 -11l0.2 -6l1.7 -3l4 -3.8l5 -3.2l1.1 -2l0.4 -3l-2.3 -4l-0.5 -4l-4.4 -14l-5.3 -3.5l-7 -8.1l-7.7 -3.4l-3.3 -4.8l-2.9 -9.2zM339 2.8l1 0l1 2.1l-1 3.2l-1.5 -3.1zM153 43.9l4 -0.2l9 1.4l2.1 0.9l3.2 6l-1 7l1.1 3l0.1 3l-0.5 4.2l-4 4.2l-4.5 8.6l-0.1 6l1 4l-0.4 1.5l-1.9 3.5l-5.6 7l-1.4 5l-2.4 4l-0.2 2l1.3 5l-2.3 5l-0.5 4.1l-8.6 8.9l-2.4 6.3l-3.6 3.7l-1.1 5l0.7 7l-1.6 5l-0.7 7l0.9 6l-1.8 8l-0.5 16l0.5 8l0.7 3l1.8 4l8.8 12l2.3 6l0.6 4l2 1.8l2 1l8 1.1l3 1l2 -0.3l3 -1.4l4 -0.5l6 -3.6l2.2 -3.1l5.8 -4.1l3 -3.9l6 -0.3l4 -2.2l1 -1.5l-0.1 -5l1.1 -2.4l7 -1.9l1.2 -0.7l1.8 -2.4l8 -3.6l6 -0.8l9 -3.3l2 0.3l4 -0.7l2 0.7l1.3 2.8l0 5l1.1 6l-2.1 4l0.7 1.8l3 1.6l0.9 1.6l0.1 3.6l-2.5 3.4l-0.1 1l3.5 7l0.2 4l2.9 1l3 -0.6l4 0.5l5 -1.9l1 0.1l6 2.7l3 2.5l9 -0.8l0.7 0.5l-0.3 2l0.8 5l-1 3l0.1 5l-0.3 0.6l-2 0.1l-1.2 1.3l1.2 4l-1.1 3l0.8 4l-2.3 5l-0.1 3l-1.6 4l1.6 5l-1.2 2l-0.7 3l-3 3l0.6 1l1.8 1l7 2l1.3 2l2.9 -0.1l1 0.5l0.8 1.6l0.1 4l1.4 1l0.8 2l0.9 0.4l0.7 -0.4l6.3 -4.9l2 -0.2l4 0.7l3 -1.1l4 -3l6 -1.3l4 0.1l1 -0.8l1.6 -3.5l5 -7l1.9 -6l4.5 -4l2.2 -1l1.4 -4l2.4 -0.5l4.5 4.5l0.5 2l-0.1 3l-2.2 6l-0.7 4l-7.5 11l-1.5 1.3l-2 0.7l-6 0.1l-3 0.6l-5.2 5.3l-0.8 3l-0.1 11l-1.2 4l-234.4 0l0.8 -3l-0.6 -8l0.4 -3l-0.5 -4l0.3 -7l0.7 -13l0.9 -5l-0.8 -11l0 -9l-1.3 -6l0.9 -8l-0.6 -6l0.3 -5l-1.2 -7l1.5 -12l-1.4 -6l0.8 -6l-0.4 -4l0.9 -4l-1.1 -13l0.5 -6l-0.2 -9l0.8 -2l2 -2.1l4 -2.5l5.3 -2.4l1.7 -3l6 -6l4 -1.6l3 -2.9l4 -1.6l3 -2.1l8 -2.7l3 -3.6l2.7 -1.5l-0 -3l0.8 -3l1.6 -3l0.7 -3l3.2 -6l-0.2 -4l1.4 -5l-0.8 -3l0.7 -5l-0.8 -3l3.3 -6l1.2 -5l0.5 -7l-1 -6l0.5 -5l2.1 -8l2.4 -4l0.5 -5l1.1 -3l-0 -2l-0.9 -2l0.4 -6l1.6 -2.3l5.4 -3.7zM310 159l4 -0l0.7 1l0.4 2l-1.2 4l1 3l-1.1 2l-5.8 2.6l-1 -0.5l-1 -1.9l-0.2 -3.2l-0.9 -2l-0.1 -2l1.2 -3.5zM288 240.9l3 -0.3l0.8 0.4l0.1 1l-3.9 3l-2.5 0l-0.7 -1l0.4 -2z" fill="#0072a1"/>
<path d="M288 0l26.6 0l0.5 4l-0.7 3l0.1 3l1.9 5l0.1 3l1.9 4l0.7 3l0.9 1.1l3 1.5l1.3 3.4l1.6 2l2.4 2l6.2 3l3.9 5l5.6 5l3 5l0.2 2l-0.7 4l2.8 4l8.7 4.9l5.5 1.1l3 2l1.6 3l0.5 4l1.5 4l-0.1 1.1l-2.2 1.9l0 1l1.2 0.5l1 1.5l0.6 4l1.4 1.7l2.9 1.3l1.1 3l6 5l1.3 2l1.5 5l9 11l0.6 10l-1.4 10.4l-2 2.2l-10.2 5.4l-1.3 2l-3.1 9l0.8 3l6.8 6.6l3.3 7.4l-0.4 5l-2.2 7l0.7 4l2 4l0 2l-2.5 8l-1.9 1l-3 0.5l-3.8 3.5l-4.2 1.8l-5 0.1l-5 2.6l-3 0.2l-5 -1.8l-3 0l-1 -0.6l-5.8 -6.3l-1.1 -11l-8.4 -14l-1 -3l0.3 -3.2l3 -4.7l0.6 -7.1l-0.5 -6l-2.8 -10l0.2 -1l1.8 -2l2.9 -5l0 -1l-3.5 -7l-4.7 -3l-0.3 -1l0.8 -4l-1.5 -4.3l-3.8 1.3l-0.5 1l0.7 4l-0.4 1l-3 1.5l-6 -0.6l-8 0.1l-1.3 -1l-1.8 -4l-0.5 -7l1.9 -5l-1.6 -6l0.2 -8l1.9 -15l1.2 -4l0.1 -5l1.9 -2.8l4 -3.7l4 -2.7l4.2 -6.8l-0.5 -1l-3.3 -3l-0.6 -4l-4.3 -15l-5.5 -3l-7 -8.4l-7 -2.8l-4 -5.5l-2.7 -8.3zM155 45.9l4 0.9l6 0.2l1.8 1l1.3 3l-1 9l0.3 1l1.9 2l0.1 1l-4.7 10l-3.6 4l-0.9 7l-1.2 4l0.7 2l-1.7 2.1l-2.6 7.9l-3.4 6.1l-4 1.1l-1.2 0.8l-0.4 1l4.2 9l-0.6 2.6l-2.4 3.4l-0.3 4l-5.3 5.7l-3 0.8l-3.3 -2.5l-0.8 -6l1.3 -6l-0.4 -4l0.8 -4l-0.8 -4l5.1 -13l-1.9 -8l0 -2l3.3 -5l-0.6 -3l1.1 -5l2.2 -2.6l1.1 -3.4l0.1 -7l-0.7 -3l0.9 -6l4.6 -3.5zM127 152.9l2 0.1l1 0.8l2 2.2l1.3 3l-0.1 2l-1.3 4l0.3 3l-0.6 4l0.8 6l-1.3 7l-0.7 17l0.7 3l0.3 7l3.6 7.5l7 10.4l2 4.8l-0.3 4.3l1.3 1.7l4 2.4l12 2l2 -0.2l3 -1.2l4 -0.2l7 -3.6l3 -3.7l4.6 -1.2l5.4 -3.2l3 -0.4l7 -3.4l2 -0.1l0.3 -2.9l0.6 -1l2.1 -0.4l2 0.3l1 -1l1.1 -2.9l-1.7 -2l0.2 -1l2.4 -2l2.1 -3l4.9 -3.3l6 -0.8l6 -2.2l2.8 0.3l3.2 1.5l3 -0.7l0.7 5.2l1.3 4l-1.9 6l0.3 1l2.4 3l0.4 2l-1.8 2l-0.3 1l1.4 6l-0.1 2l-2.5 4l0.2 1l1.7 2l-1 3l0.2 1.6l6 4.4l2 -4.8l1 -0.8l3 0.5l1 1.4l2 0.9l5 -0.9l4 3l4 0.4l3 1.7l3.1 -0.4l0.1 1l-1.2 0.3l-3 2.5l-2 -0.9l-1 0.6l-0.8 1.5l0.8 1.8l1.2 0.2l2.8 -1.7l3 0.4l2 -0.4l0.8 0.7l-0.9 3l-0 4l-1 2l1.1 6l-4.2 13l-0.8 1.1l-2 0.6l-1.9 -0.7l-4.1 -3l-2 -0.2l-1.1 1.2l0.2 4l3.1 5l-0.5 5l1.1 3l-0.4 1l-2.3 2l-0.3 1l1.2 1.3l5 1.2l2 1.2l0.3 1.3l-1.6 3l0.3 1.1l4 0.2l2 -0.7l1.2 -1.6l0.8 -3.4l1.1 -0.6l1.3 1l3.4 7l1.2 0.7l1.5 -0.7l0.5 -2.2l5 2.9l1 0.1l5 -5.4l2 -1.4l5 0.5l3 -0.9l5 -0.1l1.2 -0.5l2.3 -3l1.5 -0.4l2 3.4l-3.3 5l-0.6 2l0.4 8l-0.7 8l-231.8 0l1.1 -4l-1.4 -7l0.3 -25l1.6 -8l-1.2 -10l0.1 -9l-1.2 -6l1.2 -5l-0.8 -9l0.9 -6l-1.7 -6l1.5 -4l-0.4 -3l0.5 -6l-1.2 -5l0.7 -6l-0.5 -4l0.8 -3l0.5 -8l-1 -5l0.8 -5l-0.7 -5l0.7 -7l1.3 -2l3.1 -2.3l6 -1.9l3 -1.7l3.4 -6.1l1.6 -1.4l3 -1l4 -3.1l4 -0.1l1 -0.7l1.4 -2.7l1.6 -1.4l2 -0.5l4 0.3zM244.2 256l-1.2 2l0 1.2l2 -0l1.1 -1.2l-0.1 -1.4l-1 -1.6zM221.2 258l-2.3 5l0.1 1l2.9 3l1.1 0.2l3 -2.5l2 0.3l0.5 1l-0.6 5l1.6 2l1.5 0.2l3 -1l3 0.3l0.8 -0.5l0.4 -3l0.8 -1l3 -1.1l0.8 -0.9l0.2 -1l-1.2 -4l-0.8 -1l-3 0.8l-2 2l-1 -2.8l-3 -2.5l-2 0.2l-2 1.9l-2 0.6l-3 -2.3l-1 -0.3zM213 267l-3 3l-1.2 3l0.2 3l-1.4 1l-1.6 0.3l-3 -1.6l-1.4 3.3l-3.5 3l-0.9 2l0.2 3l-1.9 3l0.2 1l1.3 -0.5l1.6 -1.5l3.3 -1l0.6 -3l1.5 -1.9l1 -0.5l1 0.4l2 2.3l1 -0.2l0.9 -1.1l-0.9 -8l4.7 -4l1.6 -5l-0.3 -0.8l-1 -0zM190.7 279l0.1 3l1.2 0.6l2 -1.3l0.7 -1.3l-0.1 -1l-1.6 -0.9l-1 -0.1zM181.1 287l0.4 4l-0.7 4l-1.5 3l0.1 2l4.6 4.3l3 1.7l2 5.3l2 -1.5l1.1 -1.8l0 -5l-2.2 -3l-0 -1l2.3 -2l1.5 -3l-0.1 -1l-3.6 -4.7l-4 0.1l-3 -1.8zM289.9 325l0.1 0l0 -0.1zM289.8 332l1.2 1.6l1 0.4l0.8 -1l-0.3 -1l-1.5 -1l-1 0zM309 163.4l1 -0.3l0.6 0.9l-0.6 1.1l-1.6 -0.1l-0.2 -1zM203 217.9l1 -0.3l1.6 0.4l-1.6 1.2l-1.1 -0.2zM339 284l2.3 2l0.6 3l-3.7 12l-5.2 7.9l-2 2l-3 0.8l-4 -0.8l-1.3 -0.9l-0.3 -1l1.2 -6l4.4 -4.9l2.9 -7.1l3 -3l3.1 -1.8zM183 294l2 -0.2l1.7 1.2l-0.7 3.2l-1 -0.1l-2.7 -2.1l-0.5 -1zM267 306.6l1 -0.5l1.9 0.9l0.6 2l-1.5 1.2l-1.5 -0.2l-0.8 -1z" fill="#006397"/>
<path d="M289 0l23.8 0l1 3l-0.5 6l1 8l2.5 5l1.2 4.3l3.8 2.7l0.3 3l4.9 3.5l5.3 2.5l2.2 2l2.7 4l5.3 4l2.8 5l-0.9 6l1.9 5l8.3 3l8.7 6l0.7 1l0.2 2l-1.8 4l2.6 3l-1 1.2l-2.4 0.8l-0.3 1l2.8 4l0.6 2l3.7 5l7.8 4l0.7 1l-1.2 3l2.7 2l1.9 3l6.9 5l4.8 6.1l1.4 8.9l-1.6 11l-1.8 1.7l-5 2.9l-3 1l-3.3 2.4l-1.2 2l-2.1 7l-0.2 3l0.8 2.8l1.5 2.2l3.8 3l2.1 4l-0.1 7l-2.3 2.9l-0.1 1.1l1.8 3l0.7 4l-1.2 4l0.2 2l-1.4 2l-1.1 3l-3 3l-0.6 4l-1.3 1.4l-4 1.1l-4 -0.2l-5 2.1l-5.3 -1.4l-5.7 -0.3l-5.3 -4.7l0.2 -7l-0.7 -3l-1.9 -3l-0.6 -3l-2.7 -2.7l-1.7 -3.3l-2.3 -2.4l-1 -2.6l0.7 -3l2.7 -4l0.9 -7l-0.5 -8l-2.1 -6l-0.3 -3l2.6 -5l2.1 -2l0.8 -2l-3.3 -5l-1.3 -5l-2.5 -4l0.2 -1.1l3 -0.2l0.6 -0.7l-0.2 -1l-1.4 -1l-2 0.5l-1 -0.5l-2 -4.1l-2 -1.5l-2 0.6l-6 4.8l-7 4.2l-3 -0.6l-1.1 -1.4l-1.9 -0.6l-1.3 -1.4l1.8 -10l-0.5 -3l-2.3 -5l0.2 -6l1.8 -15l1.4 -4l0 -4l1.1 -2l8.5 -7l4.9 -6l0.6 -2l-1.2 -2.3l-2.8 -1.7l-0.6 -1l-3.4 -12l-0.4 -5l-0.8 -2l-1.3 -1l-4.7 -1.7l-2 -1.8l-5 -6.5l-6 -2.4l-2.8 -2.6l-2.4 -4l-2 -6zM156 49.9l3 -0.7l2.9 0.8l0.7 1l1.8 5l-0.2 2l-1.3 2l1.9 4l0.1 3l-2.5 6l-5 3l-3.7 3l-0.3 2l1 3l0.6 0.8l1 0.2l0.4 1l-2.4 5l-0 8l-1 2.9l-3 2.5l-4 -1.1l-2 2l-2 0.7l1.3 -7l0.7 -1.2l2 -0.7l0.7 -1.1l-0.4 -3l0.9 -4l-2.4 -3l-0.5 -2l1.1 -4l-0 -2l0.6 -1.5l2.9 -1.5l0.6 -1l-1.3 -3l-0.2 -2l0.9 -7l-0.6 -4l0.5 -6l2.2 -1.9l3 0.5zM140 107.6l1 0.3l1.6 4.1l2.4 4l2 2.2l0.6 1.8l-0.6 1.3l-3.5 3.7l-0.2 1l0.9 2l-0.2 1.3l-2 2.7l-2 1.1l-1.3 -1.1l-0.2 -3l-1 -2l1.3 -7l-1.2 -4l1.1 -3l0.3 -3.9zM124 156.8l6 0.4l1.4 1.8l-1.1 6l0.8 12l-1.1 8l-0.1 13l-0.5 4l0.9 4l0.4 7l4.6 9l3.6 5l3.1 6.1l0.4 1.9l-1.1 3l0.1 2l4.6 4l5 1.2l12 1.1l3 -1l3 -0.1l3 -0.8l6 -3l3 -3.3l5 -0.8l4 -2.5l3 0.2l4 -1.2l7 0l1 -0.5l4 -4.6l2 -5.4l2 -1l3.9 -4.3l0.4 -1l-0.1 -5l0.8 -1.4l6 -0.3l5 -2.7l2 0.6l2.7 3.8l0 1l-2.6 5l2.9 2.6l1 2.4l-1.2 3l-0.5 4l-2.3 3l1.7 3l0.8 3l-0.8 1l-1.8 6l1 2l2.7 2l-0.2 1l-6.4 4.1l-2 -0.5l-2 -2.6l-1 -0.3l-2.7 1.3l-2.3 2.5l-3 0.6l-0.8 0.9l-1 3l-1.1 1l-4.4 1l-0.4 2l1.1 4l-1.4 2.2l-5 2l-1.9 1.8l-1.1 2.1l-1 0.4l-5 -1.2l-2 -1l-2 0.2l-1.1 1.5l-0.9 3.1l-3 0.2l-2.5 3.7l-2.9 2l-0.4 2l1 3l-1.7 4l-0.2 6l2.9 6l4 4l-0.1 5l4.9 1.9l6.1 -2.9l0.8 -2l-0.5 -6l1.2 -3l-1.7 -2l-0.2 -2l1.3 -1.2l3 -0.3l1.8 -3.5l5.2 -5.4l4.9 -2.6l2.1 -6.2l5 -3.7l4 -1.7l9 2.4l1 -0.3l1 -1.5l2 -0.5l0.7 0.5l1.3 2.9l1 0.6l1 -0.2l5.2 -3.3l0.9 -2l1.8 -2l0 -1l-1.2 -2l0.3 -3l-0.4 -2l3.4 -1.1l1 -0.9l1 -2.7l3 0.1l3 2.1l4 1.1l4 4.2l4 -0.3l2.6 0.5l0.5 1l-1.2 2l-0.4 4l1.5 3l-1.2 6l-1.8 2.9l-2.1 0.1l-0.4 -3l-1.5 -1.3l-1 0.6l-1.8 2.7l-4.2 1.1l-4.4 2.9l-1.2 3l1.1 2l-0.1 1l-3.2 3l0.8 2l1.6 2l-0.5 3l0.4 4l4.5 6l4 2.6l5 5.1l2.4 1.3l1 3l1 1l2.6 -0l4 -3.5l2 0.1l4.5 1.4l0.4 1l-2.2 3l2.3 2.2l3.8 5.8l-204.3 0l1.1 -4l-2.4 -9l0.1 -5l1.4 -8l-0.6 -5l-1.2 -4l2.4 -9l-0.7 -3l0.3 -4l-1.1 -3l0.5 -8l-1.1 -5l1.8 -6l-0.9 -5l0.3 -3l-0.7 -3l1.5 -6l-2.4 -4l0.2 -1l1.9 -1l0.2 -1l-1.2 -8l0.3 -14l-0.7 -4l0.6 -8l0.8 -3l-0.2 -3l1 -4l-1.3 -7l0.9 -5l-0.3 -3l1.1 -2l1.9 -1.5l9 -3.1l4 -5.9l3 -1l3 -2.9l4 -0.4l2.7 -1.2l3.3 -4.6l4 0.2zM382 202.9l0.9 0.1l-0.9 0.1zM383 203l0.1 1l-0.1 0.2l-0.4 -0.2zM256 296.4l1 0.2l0.7 1.4l-0.7 3.2l-1 0.1l-1.1 -1.3l0.1 -2.3zM332 300l2 -0.1l0.3 2.1l-1.9 2l-2.4 5.2l-1 0.7l-2 -0.2l-1 -0.7l-0.2 -1l0.6 -2l-0.2 -3zM303 317l8.1 0l-0.3 3l0.4 6l0.8 3l-0.5 3l0.4 5l-16.7 0l0.3 -9l-2.5 -4l-0 -2l2 -2.2l3.8 0.2l1.4 -2z" fill="#00568e"/>
<path d="M291 0l19.6 0l1.5 3l-0.1 14l2.5 4l1.8 6l2.8 3l-0.1 2.7l-1 0l-3 -2l-4 -0.5l-3 -2.4l-3.2 -4.8l-2.8 -1.7l-4 -1.4l-2 -1.5l-2.9 -5.4l-1.8 -5l-1.1 -8zM320 33.7l6.6 3.3l4.4 1.5l1.7 1.5l3.5 5l4.8 3.2l1.7 4.8l0.1 7l1.2 6l1 0.6l8.9 1.4l3 3l2 7l0.3 4l-0.9 3l2.1 4l0 1l-1.5 3l0.5 3l-1.2 2l0.9 2l4.5 5l4.4 1.8l2 3l6 -0.4l3 2.6l5 2.5l3 3l3.5 5.5l1.8 7l-1.6 10l-0.8 1l-4.9 2.9l-3 1l-4.6 3.1l-2.5 3l-0.7 4l-0.1 7l1.8 5l3.8 3l0.8 2l-1 4l0.4 4l-1.1 4l2.1 5l0.3 2l-1.6 3l-0.4 3l-1.5 4l-3.4 4l-0.5 3l-8.8 1l-4 -1.1l-2.2 1.1l-4.8 0.6l-2.9 -0.6l-3.2 -3l-0.6 -7l-2.3 -5l-0.5 -4l-2.9 -3l-1.6 -3.1l-3.2 -2.9l-0 -3l2.7 -4l2.1 -6l-0.5 -7l-1.2 -5l-1.7 -4l-0 -3l1.8 -4l4.3 -4l0.7 -2l-1.3 -4l-1.7 -2.1l-0.9 -3.9l0.1 -1l1.9 -3l-0.1 -1l-4 -3.9l-4 -1.2l-1.7 -2.9l-2.3 -1.2l-3 -0l-6 2.9l-5 1.3l-4.5 -1l-1.2 -1l0.5 -4l-0.3 -4l-3.5 -5l-0.2 -2l1.7 -18l1.4 -3l0.7 -5l0.4 -1l3 -2.2l2.2 -2.8l7.5 -7l2 -4l-0.8 -3l-3.9 -4.1l-1 -5.9l-2.3 -5l-0.3 -4l0.6 -2.9zM339.4 71l-1.4 0.9l-0.1 1.1l2.1 2.5l1.7 -1.5l-0 -1l-0.7 -1.4zM340.8 78l-0.6 1l0.8 2l1.6 -1l-0.1 -1zM150 78l0.6 1l-0.6 1.3l-1.2 -1.3zM150 96.7l1 -0.3l1 2.6l-0 1l-1 1.4l-1 0l-0.9 -1.4zM121 160l3 -0.5l4.2 2.5l-0.7 4l1.4 3l0.7 6l-0.8 3l0.2 3l-0.8 4l0.5 5l-1.6 5l1.3 3l-0.4 4l1.2 4l0.3 8l3.5 5.5l2 5.3l2.2 2.2l1.5 3l0.7 3l-0.4 6l0.7 2l5.3 5.3l6 1l11 0.5l7 -1.1l4 -1.1l3 -1.6l3 -0l3 -2.9l6 -2.2l4 0.2l5 1.8l3 -1.4l1.7 0.5l2.3 1.8l7 1.2l1.4 -1l0.1 -1l-1.1 -3l-0.1 -1l0.7 -0.9l3 -1l1 0.4l1.3 2.5l0.3 2l-1.1 2l-0.4 3l-2.1 5.7l-1 0.2l-2.5 -1.9l-1.1 -0l-0.9 1l0 3l-4.5 3.8l-2 0.8l-1 1.4l0 1l2 1.8l0.6 1.2l-0.6 2l-2 0.6l-4 -0.7l-2 0.5l-2.4 3.6l-2.6 -0.2l-2 0.8l-9 9.4l-2.6 5l-0.9 4l-0.6 13l2.3 4l-1 4l0.8 3l1.3 2l-0.3 3l0.7 1l4.3 2.8l4 -0.3l4 1.2l4 -1.6l5 -0.2l1.1 -0.9l0.6 -2l-2.4 -1l-0.3 -0.6l-0.3 -3.4l0.5 -1l5.8 -1l4 -1.8l2 0.6l4 -0.3l1.7 2.5l1.3 0.1l1 -1.2l-0.1 -1.9l-0.9 -0.6l-2 0.1l-1.1 -1.5l-0 -2l1.1 -1.4l3 0.8l6 0.1l2 -2.3l1 -0.1l2 1.3l4 -1.4l1 0.1l5.3 6.9l1.7 3.4l1 0.4l3 -1.5l5 -0.1l3 4.4l3.3 2.4l2.7 3.4l3 1.5l0.9 1.1l0.8 3l2.3 4l7.1 2l0.8 2l0.2 3l-189.6 0l1.2 -3l-1.1 -4l-0.1 -4l-1.5 -2.5l-0.3 -1.5l2.1 -10l-0.6 -7l-1.8 -3l0.6 -1.9l1.6 -2.1l0.7 -3l-0.5 -5l0.3 -5l-1.6 -6l1.7 -4l-1.6 -4l1 -4l0.6 -8l0.1 -4l-0.7 -4l1.5 -5l0.3 -4l-1.4 -4l0.9 -4l-1.2 -3l0.3 -6l-0.8 -3l0.6 -4l-1.5 -4l1.1 -9l1.5 -7l-0.8 -8l1.3 -4l-1.3 -3l-0.3 -2l0.4 -1l1.8 -1.4l8 -2.5l3 -1.8l2 -0.4l1.4 -2.9l4.6 -3.8l6.6 -2.2zM98.7 309l0.3 1.1l1 0.3l0 -1.8zM226 215.9l1 -0.1l0.9 1.2l-0 1l-0.9 1l-1 -0.1l-1 -0.9l0 -1.1zM218 222l2 0.2l2.1 2.8l0.3 2l-1.4 2.4l-1 0l-3 -2.4l-0.1 -4zM229 227.6l1 0.1l0 1l-1 -0.1zM225 233.9l1 -0.8l0.9 0.9l-0.9 1.1l-0.6 -0.1zM222 237l0.6 2l-0.6 2.5l-1 -0.5l-0.9 -2l0.9 -1.7zM222 244.9l0 0.1l0 0l-0 0zM252 266.6l2 -0.4l1 0.7l0.8 3.1l-0.1 1l-0.7 0.6l-2 -0.4l-1.5 -1.2l-0.2 -2zM264 271.8l3 -0.5l1 0.7l0.7 3l-0.7 1.9l-2 -0.3l-3.8 -2.6l-0.1 -1zM248 276.8l2 0l1.1 1.2l-5.1 4l-3 0.6l-1.2 -0.6l-0.4 -1l1.2 -2zM224 281.2l3.5 0.8l2.1 2l0.6 2l2.2 3l-0.1 2l-0.9 2l0.2 1l2.7 1l0.5 1l-0.8 1.4l-1 0.2l-2 -1.2l-1 0l-2 2.1l-1 -0.2l-0.3 -2.3l1.6 -3l0.4 -5l-0.7 -1.2l-4.6 -1.8l-0.3 -2zM234 282.7l0.5 1.3l-0.5 0.6l-0.7 -0.6zM253 283l1 -0l0 1l-1.3 0zM248 283.9l1.6 1.1l-0 1l-0.6 0.3l-1 -0.6zM218 284.9l2.4 1.1l-2.2 3l1.7 2l-0.9 1.5l-3 -0.6l-1.3 1.1l-3.7 1.6l-1.8 -0.6l-0.2 -1l1.8 -4l3.4 -3zM246 290.8l1.3 1.2l-0 1l-1.3 1.7l-1 -0l-2 -1.3l-3 2.8l-1.6 -0.2l-0.2 -1l1.8 -1.7l1 -0.7l2 0.1l0.4 -0.7zM220 293.7l2 0.4l1 0.9l-1 1.9l-1 -0l-1.2 -0.9l-0.4 -1zM203 299l2 -0.9l1.6 0.9l0.4 1l-0.4 2l-0.7 1l-2.9 1.2l-1 -0.5l-0.9 -1.7l0.1 -1zM210 298.9l1 -0.6l0.6 0.7l-0.6 2.1l-1.2 -1.1zM243 304.8l1 -0.4l0.5 0.6l-0.5 1.4l-1 -0.4zM306 322l1.8 1l-0 1l-0.8 0.9l-1 -0.2l-0.5 -0.7l-0.3 -1zM303 327l1.8 0l0.5 1l-0.7 2l-1.6 1.9l-0.9 -2.9zM301 332.8l1 -0.3l0.5 0.5l-0.4 1l-1.1 0.5l-1 -0.2l0 -0.7zM309 332.8l1 1.1l0.7 3.1l-4.2 0l0.2 -3zM281 334.8l2 -0l1.5 2.2l-4.6 0l0.1 -1.1z" fill="#004684"/>
<path d="M293 0l15.7 0l1.3 3.2l0.7 3.8l0 6l-0.6 4l1.8 4l0.7 5l-0.6 1.4l-1 0.3l-1.6 -0.7l-1.4 -4l-10 -4.6l-1 -0.9l-3.3 -8.5l-0.4 -4l-1.3 -4l0.1 -1zM321 36.7l5 2.2l3 0.3l1.8 0.8l4.2 6l4 2.4l1.2 1.6l1 7l-0.7 3l-3.5 4.3l-3 1.3l-3 -0.2l-0.7 0.6l-0.1 1l0.8 4l3 0.8l2.6 4.2l2.4 10.1l2 1.2l3 -1.3l0.9 -1l0.2 -2l2.7 -2l0.3 -4l-1.9 -6l0.8 -0.5l2 1l3 -0.9l1.6 0.4l0.6 1l-0.5 6l1.9 4l1.2 6l-0.8 2.3l-4.1 2.7l-0.1 2l1.5 6l0.7 0.5l3 -0.1l1 0.4l1.2 1.2l0.8 3.9l4 2l3 3.4l5 0.5l3 -0.5l8 3.6l5.5 7.1l2.3 7l-0.1 2l-2.1 7l-3.6 2.8l-4 1.7l-3 2.3l-5 2.1l-0.6 1.1l-1.2 4l1.1 6l0.1 4l1.8 5l3.2 3l0.3 1l-0.3 8l-1 3l0.1 8l-0.7 6l-1.1 3l-1.7 0.8l-4 0.2l-1.9 4l-2.1 1l-4 -2l-5.8 -1l-2.2 -1.5l-3.2 0.5l-1.3 -4l-2 -4l-0.8 -5l-3.7 -6.1l-3 -2.6l-0.6 -1.3l5.1 -9l0.5 -2l-0.4 -3l0.3 -3l-1.4 -3l-0.9 -4l-1.8 -3l-0 -3l1.2 -2.1l4 -3.8l3.3 -2.1l0.9 -2l-1.9 -5l0.2 -2l1 -2l-1.9 -3l0.5 -2l-2.4 -3l-1.2 -4l-2.5 -3.2l-3 -2l-4 1l-6 -1l-10 2.1l-1 -0.4l-2.8 -6.5l-3.9 -4l-0.9 -2l0.5 -11l0.9 -3l0.2 -3.2l1.5 -2.8l0.5 -3.3l5.3 -7.7l8.4 -7l1.8 -4l-1.3 -4l-4 -6l-0.2 -5l-2.9 -6zM334 67.1l1.1 0.9l-0.1 1l-1 1.2l-1 -1.2zM121 164.6l1 -0.1l1 0.8l1 4.7l-0 3l2.2 2l-0.8 4l0.3 5l-1.5 4l0.7 4l-1.7 4l2.6 4l2 10l-0.4 4l4 5l2.3 7l2.7 3l0.6 2l-0.5 3l0.7 6l1.3 3l2.5 2l2.3 4l1.7 0.9l3 -0.7l3 0.2l3 -0.6l7 1.4l5 -1.7l10 -2l4 0.9l4 -1.1l3 -0.2l2 -2.8l4 0.9l3 -0.7l4 2.3l3.5 1.2l0.7 1l-0.2 3l-1 1.9l-3 1.7l-2 2.7l-1 0.3l-2 -1l-1 0.2l-1.2 3.2l-5 3l-0.2 3l-0.6 1.2l-5.6 2.8l-1.9 5l-7.7 8l1.1 4l-0.9 2.7l-1 0.7l-2.4 -0.4l-0.2 1l2.6 1.7l1.1 2.3l-2.1 7l0.9 2l2.9 2l0.6 5l-1 5l0.2 2l0.8 2l2.1 2l1.5 3.4l2 1l4 -0.7l3 -1.3l10 3.3l1.2 -0.7l-0.7 -3l0.4 -1l1.1 -0.2l4 0.2l1.5 2l2.5 0.4l2 -1.4l0.5 -5l1.5 -3.5l1 -0.1l2 1.7l1 0.1l5 -2.9l3 -3.6l3.6 -1.7l0.4 -1.5l1 -0.7l3.3 1.2l-0.8 3l3 2l1.5 2l5 -0.9l1.4 0.9l1.6 2.8l4 -0.3l8.2 1.5l0.9 1l1.2 4l5.7 5l2.6 8l-74 0l-0.6 -1.5l-1 -0.7l-0.9 1.2l0.2 1l-5.4 0l-1.9 -1.7l-1 0l-1.2 1.7l-90.4 0l0.3 -3l-2.5 -4l1.2 -5l-0.7 -3l0.7 -3l0.2 -6l-1.3 -4l0.2 -4l-0.6 -2l3.1 -7l-2.2 -4l0.4 -17l-1.1 -4l0.7 -4l-0.5 -4l1.5 -9l-1.2 -4l1.7 -5l-0.1 -3l-1.2 -4l1.5 -6l-1.3 -5l0.7 -5l1.5 -4l-0.4 -1.5l-3 -1.3l-0.7 -1.2l1.9 -5l0.6 -12l-0.9 -6l2.1 -5l-0.1 -1l-2.1 -3l0.1 -1l5.1 -2.9l6 -1.5l3 0.5l1 -0.4l1.5 -3.7l3 -3l3.5 -0.5l2 -1.5l4 -1.1zM148.9 275l0.1 1l1 0.8l1 0.2l0.9 -1l-0.9 -1.1zM98.8 304l-2.8 2.6l-0.7 1.4l0.4 4l-1 4l5.3 9.7l1 -0.6l0.4 -2.1l2.6 -1.6l0.6 -1.4l-1.3 -6l1.4 -4l-3.2 -5l-1.5 -1z" fill="#00397b"/>
<path d="M295 0l11 0l-0.4 4l2.8 3l0.2 6l-0.6 1.8l-2.5 1.2l-0.6 2l-2.9 0.1l-3 -1.3l-1 -0.9l-2 -4.9l-0.4 -5l-1.2 -5l-0 -1zM325 41.2l5 0.4l1.2 1.4l0.8 3.7l0.9 1.3l5.1 2l0.7 2l-0.1 3l-0.6 1.8l-2 2l-5 -0.6l-2 -1.4l-4.1 -7.8l-0.5 -7zM325 67.9l2 -0.2l1 1.3l0.4 3l5 3l0.5 1l0.1 3.4l2 3l0.7 3.6l3.3 4.7l1 0.4l4 -0.7l3.6 1.6l1.4 7l-0.8 2l-1.2 1.1l-1.6 2.9l-0.1 2l0.9 1l3.8 1.8l6 1.3l4 -1l1 0.9l0 3l1 1l6 -0.1l4 1.3l4 -0.5l4 0.7l1.6 1.6l1.4 3.6l2 1.9l1 1.9l0.6 4.6l1 3l-0.6 2.4l-1 1.6l-3 3l-8 4l-5 0.3l-1 0.6l-1.9 3.1l1.4 2l-0.6 3l0.9 4l-0.5 6l5.3 9l1.5 4l-2.1 10l0.4 6l-1.3 5l-1.1 0.9l-5 -0.8l-3 1l-3 -0.3l-2 1.7l-1 0l-7 -0.8l-3 -4.9l-0.5 -4.8l-2.5 -6l-3.2 -5l0.7 -2l2.5 -2.6l0.9 -5.4l-0.4 -6l-1.6 -4l-0.7 -7l2.8 -5.2l3 -2.1l2.1 -2.7l0.8 -2l-0.8 -4l1.8 -5l-0.3 -1l-2.1 -2l0.6 -3l-1.3 -3l1.9 -5l1.3 -2l-0.1 -1l-0.9 -1.3l-1 -0.2l-1 0.7l-1.3 1.8l0 2l-1.7 1.1l-2 -1.2l-1.3 -3.9l-2.7 -2.7l-6 -1.2l-5 1.9l-4 -1.7l-3 0.3l-8 -3.3l-1.4 -1.3l-1.5 -3l-0.5 -2l-0.2 -7l0.7 -2l3 -3l0.1 -6l4.5 -9l2 -2zM117 170.9l1 -0.7l1.5 0.8l2.9 7l1 5l-0.4 1.2l-2.1 1.8l-0.9 1.5l-3 0.1l-0.9 1.4l0.9 1.5l3 0.7l0.4 0.8l-0.9 9l1.2 2l2.8 2l2.3 6l-0.3 4l3.4 3l1.5 2l2 8l1.5 3l1 8l1 3l-0.9 2l-3 0.8l-1 1l-1.2 3.2l2.2 5.4l3 1.3l2 1.8l5 7.1l2 -0.8l2 0.7l4 -2l1.2 0.5l0.8 4l2 1.6l0.4 3.4l-1.9 0l-4.4 -3l-3.1 -1.4l-1.9 1.4l-0.4 1l6.5 11l0.2 3l1.8 3l-0.2 1.3l-1.6 1.7l0.6 0.6l8 -0.5l3 0.8l2 -1.7l2 2.4l1.1 2.4l-0.1 1l-3 1l0 2.7l-3.2 1.3l1.2 1.4l2 0.3l2.3 1.3l4.1 6l0.4 1l-0.1 3l1 3l0.2 5l3.1 3l1.2 3l3.3 3l0.4 3l-1 4l-73.3 0l-0.6 -0.7l-1.2 0.7l-2.1 0l-3 -4l0.3 -3.2l1 -0.8l3 0l1 -1.1l1.2 -2.9l2.3 -3l-0.4 -8l3 -4l-1.1 -2.1l-3.4 -2.9l-4.6 -6l-2 -0.9l-3 0.4l-1 -0.6l-3.6 -6.9l-0.6 -4l1.4 -5l-2.1 -11l0.7 -5l-0.5 -3l0.8 -6l2.7 -3l-0.2 -1l-2.6 -2l-0.2 -1l3.2 -5.3l3 -1.4l1.5 -2.3l-0.1 -1l-2.4 -3.8l-2.7 -1.2l0 -1l0.7 -1.4l1 -0.3l3 1.8l2 0.1l1.2 -1.2l0.1 -1l-2.3 -3.8l-2 -1.2l-0.6 -1l-0.6 -3l-1.7 -4l-0.4 -3l-2.2 -3l0.5 -3l-0.8 -4l0.8 -5.8l1 -2l2.3 -2.2l0.2 -1l-3.5 -2l-0.5 -2l0.5 -2l1.9 -3l-0.2 -4l0.6 -1l1.7 -0.6l1.7 0.6l-0.2 4l4.5 5.7l2 0.7l6 0.5l1 -0.8l0.4 -4.1l-0.4 -4l1.4 -2l-1.4 -0.3l-1 -1l-1.3 -3.7l0.7 -1l2.6 -0.8l3 -2.2zM95.8 191l-0.1 2l1.3 0l0.5 -1l-0.2 -1zM139.6 265l-1.8 1l1.2 1.6l2 -1.6l0.1 -1zM93.4 286l0.6 1.4l1 -0.3l0 -1.2l-1 -0.4zM181 250l2 0.4l4 -1.2l3 2.2l3 -0.6l0.2 1.2l-1.2 1.3l-2 0l-4 1.7l-3 -2.3l-5 -0.6l-1.2 -1.1l1.2 -0.8zM152 251.9l2 -0.3l0.6 0.4l1.2 4l-2 2l-0.8 2.1l-1 -0l0.4 -2.1l-4.1 -4l-0.1 -1zM165 251.7l1 -0.1l0.8 0.4l-0.5 1l-1.3 0.4l-0.8 -0.4zM158 256.1l5 1.2l3 0l1 0.9l0.7 3.8l2.3 0.7l1.5 1.3l-0.1 2l-1.4 0.8l-1 -0.3l-5.8 -3.5l-1.3 -1l-0.3 -2l-4.3 -3zM181 261.7l2 0.5l1.2 1.8l-0 1l-4.2 0.8l-1.8 -0.8l1 -2zM154 263.8l1 -0.4l2 0.6l0.6 2l-0.6 2.3l-3 -1.1l-0.4 -2.2zM165 272.7l1 -0.6l1 0.5l1 3.8l-1 0.2l-2.6 -2.6zM162 280l1.6 1l-1.6 1.9l-1 0.4l-0.5 -1.3l0.5 -1.4zM224 313.9l1 -0.5l0.3 0.6l-0.3 1.9l-1 -0.3zM219 319.4l1.1 0.6l0.5 2l-0.6 1.2l-2 1.2l-0.6 -1.4l0.2 -2zM246 320.9l3 1.2l7 6.1l1.8 2.8l0.2 2.1l1.3 3.9l-32.9 0l0.2 -3l5.4 -3.7l2.3 0.7l1.9 2l1.8 3.5l1 -0.3l3.5 -4.2l1.6 -3l0.2 -2l-1.5 -2l0.3 -2zM235 321.9l3.4 3.1l0.6 1l-0.9 1l-1.5 0l-1.2 -1l-1.5 -3l0.1 -0.6zM216 324.9l1.2 0.1l2.5 4l2.3 2.1l0.4 0.9l-0.4 1l-2 -0.4l-0.8 -0.6l-0.4 -2l-0.8 -0.8l-3.1 -1.2l-0.6 -1l0.3 -1zM229 326.3l1 0.3l0 1.1l-1 0.2l-0.5 -0.9zM196 330.8l2 1.2l0.3 1l-1.3 1.9l-1.3 -0.9l-0.3 -2zM96 335.5l0.2 0.5l0.1 1l-0.6 0z" fill="#002a71"/>
<path d="M298 0l5.9 0l-2.3 4l1.4 3.1l0 2.9l-1 1.6l-2 1.2l-2 -1.2l-0.5 -1.6l0.5 -1.7l2.4 -3.3l-2.7 -3l-0.4 -2zM333 51.8l3 0.5l0 1.4l-5 1.6l-0.6 -1.3l0.5 -1zM323 72.8l2 0.5l2 3.1l3 -0.6l1 0.3l0.5 0.9l0.1 5l1.9 3l-1 2l0 2l2.5 6.2l1 0.5l3 -1.8l2.5 1.1l0.2 2l-3.7 3l-0.1 3l-0.9 1.1l-6 0.9l-3 -2.4l-3 0.9l-3 0.1l-6.3 -2.6l-0.1 -4l-1.6 -3.1l-0.3 -1.9l2.6 -4l1.8 -8l3.3 -6zM363 117.7l2 -0.5l4 0.2l5 1.3l4 -1.1l2.1 0.4l0.6 1l-0.6 4l0.3 1l2.2 2l0.3 4l-0.7 2l1.5 3l-0.1 1l-1.6 2l-4 1.5l-3 1.9l-5 0l-4 2.7l-1 -0.4l-1 -2l-1 -0.5l-0.5 0.8l0.2 2l2.3 3l0.7 6l1.3 4l-1 4l0 3l1.5 3l3.5 2l0.7 1l2.3 6l0 2l-2 8l0.7 5l-0.7 2.1l-2 1.4l-2 -0.2l-6 -2.2l-3 2.3l-4 1.2l-1 -0.3l-1.3 -2.3l-2.7 -2l-2.4 -9l-1.8 -3l0.2 -1.5l2.3 -2.5l-0.9 -13l-1.7 -4l1.2 -3l-0.4 -3l0.6 -2l6.8 -8l0.3 -1l-0.2 -7l1.8 -5l-0.7 -3l-1.4 -2l-0.2 -2l1.5 -1.4l5 -0.6zM116 176.9l1 -0.8l2 0.8l1 1.1l-0 2.2l-1 0.3l-1 -0.5zM101 194.8l2 0.2l2 1l2 2l1 2.1l7 2.7l3 3.1l2 0.7l1.3 1.4l1.6 4l0.6 4l3.2 3l0.2 1l-1.9 3.1l-0.5 1.9l1.5 0.8l3 0.1l0.8 4.1l2.2 3l0.5 2l-2.5 4.2l-1 0.7l-5 -0.8l-0.4 0.9l0.4 1.4l3.8 2.6l0.4 1l-1.2 1.8l-3 1.2l0.2 1l2.8 2.1l2.4 3.9l2.7 3l0 1l-1.4 2l5.3 12.7l1 0.5l4 -0.3l2.7 4.1l-0.7 6.3l0.9 1.7l1.5 1l0.3 1l-1.1 2l-0.4 3l2.3 3l0.5 3.6l1 0.3l3 -1.9l2 0.4l2 4.1l1.7 1.5l1.3 3.6l1 0.1l2 -1.7l1.1 0l0.8 1l0.7 3l2.3 3l-0.1 2l-1.3 2l0.1 1l2.4 3l-1 5l1 0.7l4 0.2l0 3.3l1 1l3 0.1l0.7 0.7l0.8 2l-0.5 1.3l-3 0.4l-1.2 1.3l-64.4 0l-0.2 -7l-1.2 -1.3l-0.2 -1.7l2.6 -3l1.2 -4l1.5 -1l0.2 -4l4.3 -2l1.6 -2l-0.6 -6l-0.6 -1.2l-2 -1.2l-4 0.1l-3.1 -1.7l-1.2 -2l0.9 -3l-0.6 -1.3l-2 -0.4l-4 1.2l-1.6 -0.5l-0.7 -1l-0.6 -5l0.7 -6l-1.3 -5l1.4 -8l-1.9 -2.3l-3 -1.5l-0.4 -2.2l1.6 -4l3.3 -3l-0.4 -3l0.7 -5l1.2 -3.9l2.5 -2.1l4.5 -0.6l0.7 -1.4l-1.6 -7l0 -4l-4.1 -5.7l-3.6 -3.3l-0.6 -2l-0.1 -3l-1.4 -4l0.3 -4l-1.6 -0.3l-1.2 -1.7l0.8 -3l1.2 -2l4.2 -2.6zM113.9 209l0.4 0l-0.3 -0.7zM251 331.8l4 1l1.8 4.2l-14.3 0l1.5 -2.2z" fill="#001b67"/>
<path d="M375 122.8l1 -0.3l0.6 0.5l0 3l-0.5 2l-2.1 1.8l-1.4 -0.8l-0.5 -4zM360 126.2l1 0.7l1 2l1 0.2l4 -2.3l0.4 0.2l-0.4 6.2l-3 -0.5l-1.2 -0.7l-0.8 -1.5l-2 -0.6l-1.1 -1.9zM372 134.9l1 -0.6l1 0.1l1 1.1l0.2 1.5l-1.2 1.6l-2 0.1l-0.9 -0.7l-0.1 -1zM351 151.7l1 -0.3l3.7 1.6l1.3 3.5l1 0.4l2 -0.7l2 0.4l1.2 2.4l-1.2 2.6l-4 0.4l-3 1.1l-1.3 -0.1l-1.5 -1l-2 -5zM351 166.5l3 2l3 0.9l0.1 0.6l-5.1 1.5l-1.1 -3.5zM361 175l1.6 0l0.7 1l-3.2 4l-1.3 4l2.2 1.1l0.6 1.9l-0.5 1l-3.1 2.3l-2 0.2l-3 -1.5l-0.4 -1l0.7 -3l-1.3 -2.1l1 -1.7l3 -1.2l3 -3.9zM368 188.7l1 -0l1 0.9l0 1.6l-1 0.5l-1.1 -0.7l-0.4 -1zM105 208.2l5 1.7l1.4 2.1l0.1 1l-1.5 0.7l-3 -1.4l-3 -0.5l-0.6 -0.8l0.1 -1zM103 216.8l1 0.4l0.4 0.8l0.2 1l-0.6 1.1l-1.5 -0.1l-1.6 -1l0.3 -1zM118 218.9l1.1 4.1l-0.6 3l1.8 4l-2.3 2.6l-1 0.3l-3.7 -4.9l-0.7 -3l1.4 -3.2zM117 235.7l1.2 0.3l0.3 3l1.5 1.5l0.7 1.5l-0 1l-1.8 2l-0.3 1l1.1 5l-0.7 1.1l-2 0.1l-1.5 0.8l-1.5 4.6l-3 -1.1l-1.4 -1.5l0.6 -2l2.1 -3l0.5 -3l1.5 -2l0.6 -3l2.3 -3zM121 255l4 0.1l1 0.9l-5 4.4l-5 2.8l-1.3 -1.2l-0.7 -3l1 -1l3 0.2zM103 258.9l4 -0.5l0.2 2.6l-1.2 0.7l-1 -0.5zM127 263.8l1 -0.2l0.5 0.4l0.7 1l-0.2 1.4l-1 -0.3zM116 264.8l3 1.1l2.3 2.1l2.2 4l-0.5 1.7l-2 0.5l-2.2 -1.2l-1.3 -3l-2.9 -3l0 -1zM100 273.7l1 -0.5l0.8 0.8l0.2 2l-1 1.2l-1.3 -0.2l-0.5 -1zM116 281.5l1 -0.5l1 0.6l1.3 3.4l0.8 3l-1.2 3l0.5 1l3.6 1.8l1 2.6l3 2.2l4 1.3l2 -1.2l3.5 3.3l0.3 1l-2.8 1l-3 -3.8l-3.1 2.8l-1.9 2.9l-3 -0.8l-3 2.1l-1.6 -6.2l1.3 -3l-0.3 -2l-2.4 -0.4l-2 1.1l-2.5 2.3l-2.5 -0.1l-0.6 -0.9l0.9 -4l-0.6 -4l2.3 -4l-0.5 -2zM105 282.9l0.3 0.1l-0.3 0.2zM124 282.9l2 -0.1l2.9 2.2l-3.9 2.9l-1 -0.6l-0.7 -2.3zM134 282.6l4 -0.2l1.2 0.6l2.1 7l-0.3 1.2l-2 1.7l-2 -0.1l-0.9 -0.8l0.3 -2l1.4 -3l-0.1 -1l-4.2 -2zM101 288.5l2 0.9l0.2 0.6l-0.8 1l-1.4 0.1l-1 -1.1l0.1 -1zM128 291.7l2.2 0.3l4 2l-1.2 0.7l-5 0.2l-1.4 -0.9l-0.4 -1zM144 305l2 -0.2l2.2 1.2l3.4 6l0.4 2l-2 2.3l-4 -0.2l-4.7 0.9l-0.5 3l-1.8 0.5l-0.9 -0.5l-0.2 -1l0.6 -4l-0.9 -4l2.4 -3.8zM156 313.9l3 0.9l1 1.2l-0.3 4l-2.7 0.4l-2.6 -1.4l-0.6 -3l1.2 -1.9zM128 314.9l1.1 0.1l0.3 1l-0.4 0.5l-1.2 -0.5zM121 316.6l2 0.4l2 5.4l5 1l3 3.1l2 0.3l2 -1.8l1 0.3l0.3 1.7l-1.6 2l-1.6 4l0.2 2l-0.5 2l-5.2 0l-3.3 -4l0.7 -1l2 -0.2l0.9 -0.8l0.3 -3l-2.2 -2.6l-2 -0.7l-6.5 -4.7l0.2 -2zM153 323l2 -0.3l0.4 0.3l-0.2 1l-1.7 0zM116 324.8l2 0l1.6 1.2l-0.2 1l-2.4 3.3l-1 0.3l-0.8 -4.6zM159 326.7l1 -0.1l2 2.4l-1.7 1l-1.7 0l-0.8 -1l0.1 -1zM164 329l1 0.3l0.9 0.7l-0.9 0.6l-2 -0.6zM143 331.4l1 -0.2l0.5 0.8l0 2l-0.5 1.1l-1.3 -2.1zM119 332.7l2 0.1l1 0.8l1.8 3.4l-7.2 0l0.4 -2.2zM154 333.7l3 -0l2 0.7l1.3 2.6l-7.6 0l0.3 -2.5z" fill="#000e5e"/>
<polygon points="455.5,5 466,5 466,16.5" fill="#fff"/>
<polygon points="206.0,10.0 208.0,9.1 210.0,8.0 211.9,7.6 213.6,6.7 215.3,5.8 217.0,5.0 218.6,4.9 220.2,5.2 221.9,4.9 223.5,5.6 225.1,5.7 226.8,4.8 228.4,5.5 230.0,5.0 231.6,5.1 233.2,5.7 234.9,4.3 236.5,4.3 238.1,4.2 239.8,5.5 241.4,5.4 243.0,5.6 244.6,5.8 246.2,5.5 247.9,4.9 249.5,5.4 251.1,4.4 252.8,5.2 254.4,4.4 256.0,5.7 257.6,5.0 259.2,4.9 260.9,4.6 262.5,5.4 264.1,4.9 265.8,5.1 267.4,4.2 269.0,5.0 270.7,6.2 272.4,7.6 274.4,8.6 275.8,10.3 277.4,11.7 276.8,13.5 275.1,13.0 273.5,12.2 271.8,12.3 270.0,12.3 268.3,12.8 270.0,12.9 271.6,13.4 273.2,14.2 275.0,13.6 276.5,14.6 278.6,15.3 279.6,17.0 281.0,18.3 280.4,21.3 278.0,22.6 276.4,22.5 274.8,23.4 273.3,23.7 271.6,23.5 270.0,23.4 269.5,24.3 271.5,24.3 273.4,24.8 275.4,24.7 277.4,25.0 279.2,26.8 282.2,26.2 284.0,28.0 286.5,29.2 287.7,28.0 289.5,28.1 290.7,26.8 293.7,27.4 295.6,28.1 296.8,29.8 297.0,31.7 296.2,33.5 295.3,35.1 293.7,35.9 292.3,36.9 291.3,38.3 290.7,40.0 289.5,41.3 287.7,43.7 285.9,45.6 284.0,46.8 284.7,49.8 284.0,52.2 284.7,55.0 283.9,57.0 283.0,59.0 282.0,62.0 281.0,65.0 280.9,67.1 280.0,69.0 281.4,70.0 282.5,71.3 283.0,73.0 283.8,75.1 285.0,77.0 284.5,79.3 283.0,81.0 282.4,83.2 281.0,85.0 282.2,86.6 282.6,88.6 284.0,90.0 285.3,91.2 285.0,93.2 286.8,94.2 287.0,96.0 285.3,97.7 285.0,100.0 284.9,101.8 283.9,103.6 284.5,105.5 283.7,106.9 282.9,108.4 282.7,110.0 281.1,111.2 279.1,110.9 280.9,112.5 282.2,114.5 281.3,116.2 279.8,117.2 278.2,118.2 276.4,120.0 277.3,121.7 277.3,123.6 277.3,125.5 277.4,127.3 278.0,129.1 277.3,130.9 276.4,132.6 276.0,134.5 275.5,136.4 276.7,137.5 277.3,139.1 277.3,141.3 277.3,143.6 278.2,145.3 277.8,147.3 278.2,149.1 276.3,150.5 275.5,152.7 274.3,153.8 272.7,154.5 270.7,155.7 269.1,157.3 268.3,158.9 266.5,159.5 265.5,160.9 263.8,162.5 261.8,163.6 260.2,165.0 258.1,165.3 256.4,166.4 254.8,167.7 252.6,167.1 250.9,168.2 249.3,169.4 247.2,168.9 245.5,169.6 243.5,170.0 241.6,170.1 239.9,169.0 238.0,169.1 237.1,167.6 235.3,167.3 234.7,169.0 233.4,170.2 232.6,171.8 231.1,173.5 229.9,175.4 228.3,176.5 227.1,178.2 225.3,179.1 223.5,179.4 222.6,181.0 220.9,181.3 219.9,182.7 217.9,183.3 216.4,184.8 214.4,185.4 212.4,185.5 210.9,186.8 209.0,187.2 206.3,188.1 204.6,187.7 203.1,188.4 201.4,188.2 199.9,189.0 197.8,189.0 195.6,189.2 193.6,189.9 192.4,191.1 190.6,191.9 189.9,193.6 188.5,195.0 187.6,196.7 186.3,198.1 184.7,199.2 183.8,201.1 181.8,201.7 180.6,203.3 178.9,204.3 177.9,206.1 176.3,207.2 175.0,208.3 174.0,209.7 172.7,210.8 172.5,212.5 171.5,213.9 170.4,215.1 169.7,216.6 169.1,218.1 168.1,219.4 167.0,220.7 166.1,222.0 165.4,223.5 164.4,224.9 162.8,225.7 162.3,227.5 161.2,228.7 160.0,229.9 158.0,232.0 156.4,233.5 156.0,231.5 154.5,230.2 153.6,227.9 151.9,226.2 151.3,224.7 149.6,223.9 149.2,222.2 148.6,220.3 147.3,218.9 145.9,217.6 144.6,216.4 142.6,217.2 141.2,216.2 140.4,214.2 138.6,212.9 137.9,211.0 138.4,208.9 137.5,207.0 137.9,205.0 138.6,203.4 138.7,201.7 138.5,200.0 138.6,198.3 138.0,196.6 137.0,194.9 137.2,193.0 137.8,191.4 137.7,189.7 138.0,188.0 139.0,186.5 139.9,184.9 140.7,183.3 141.2,181.5 140.6,179.4 142.0,178.0 142.4,176.3 143.6,174.9 143.4,172.9 144.5,171.5 144.5,169.6 145.3,168.1 145.7,166.3 147.0,165.0 148.2,163.6 148.1,161.6 149.0,160.0 150.6,158.8 151.0,157.0 150.8,154.9 151.8,153.4 153.0,152.0 153.9,150.5 154.6,148.8 154.9,146.9 156.6,145.8 156.9,144.0 157.6,142.3 158.4,140.7 159.0,139.0 160.1,137.7 160.2,135.9 161.1,134.4 161.6,132.8 162.3,131.3 164.1,130.3 164.6,128.7 165.0,127.0 165.7,125.5 166.1,123.8 166.9,122.3 167.4,120.7 168.7,119.5 169.2,117.9 170.5,116.6 171.0,115.0 171.4,113.3 171.7,111.5 172.0,109.8 172.7,108.1 174.2,106.8 174.4,105.0 175.1,103.4 176.2,101.9 176.2,100.0 177.5,98.5 176.9,96.4 178.1,94.8 178.4,93.0 178.8,91.4 179.2,89.7 180.6,88.6 181.5,87.1 181.4,85.2 182.1,83.6 182.8,82.0 183.5,80.4 184.4,78.9 184.6,77.2 184.9,75.5 185.9,73.9 185.4,71.9 186.7,70.4 186.2,68.4 187.1,66.8 187.5,65.0 186.8,63.5 185.8,61.9 186.0,60.2 185.8,58.3 184.7,56.8 183.2,55.5 182.8,53.7 181.3,52.5 180.6,50.7 178.9,49.8 178.0,48.1 177.2,46.4 176.2,44.9 175.5,43.3 175.0,41.7 174.2,40.1 174.0,38.4 174.8,36.7 175.9,35.1 175.4,33.0 176.7,31.4 177.3,29.7 177.4,27.9 178.8,26.7 179.0,24.9 179.8,23.4 179.9,21.6 180.4,20.0 181.6,18.6 182.0,17.0 182.8,15.5 184.8,15.5 186.5,14.7 188.3,14.0 190.0,13.0 191.7,13.5 193.3,12.0 195.0,12.6 196.7,12.5 198.4,12.9 200.0,12.0 201.9,11.0 203.9,10.3" fill="#c0c0c0" stroke="#000" stroke-width="0.6" stroke-linejoin="round"/>
<polygon points="156.0,5.0 217.0,5.0 217.0,7.0 205.0,8.0 195.0,8.5 185.0,9.0 175.0,9.0 168.0,8.0 167.0,13.5 156.0,13.5" fill="#c0c0c0" stroke="#000" stroke-width="0.6" stroke-linejoin="round"/>
<polygon points="35.0,167.0 36.8,166.4 38.4,165.3 40.4,165.6 42.2,164.9 44.0,164.5 45.7,164.2 47.4,163.9 49.1,163.6 50.9,164.1 52.5,163.5 54.3,163.3 56.0,163.5 57.7,163.7 59.3,163.5 61.0,162.9 62.7,163.5 64.3,163.0 66.0,163.5 64.6,164.7 63.5,166.2 63.0,168.0 62.3,169.7 61.2,171.1 61.0,173.0 61.4,174.8 60.4,176.4 60.8,178.3 60.0,179.9 60.2,181.7 59.9,183.4 59.0,185.0 58.8,186.6 59.4,188.2 59.6,189.8 59.4,191.4 59.0,193.0 57.6,194.2 56.0,195.0 55.0,198.0 53.5,199.5 52.0,201.0 52.0,203.1 51.0,205.0 50.0,208.0 50.5,209.8 51.4,211.3 52.0,213.0 51.7,214.7 51.5,216.4 51.0,218.0 51.6,219.6 52.9,220.7 54.0,222.0 53.0,225.0 54.5,226.8 55.0,229.0 55.7,230.7 57.0,232.0 58.0,235.0 56.0,237.0 53.0,236.0 51.3,235.0 49.4,235.4 47.7,234.5 45.8,235.1 44.0,234.6 42.0,234.3 40.0,234.3 38.0,234.0 39.1,235.2 40.0,236.6 41.7,237.4 43.5,237.4 45.1,238.4 47.0,238.0 48.6,238.3 50.3,237.7 51.8,238.4 53.3,239.4 55.0,239.0 56.1,240.4 57.0,242.0 58.0,245.0 59.8,246.7 60.3,249.2 60.7,251.0 61.0,252.7 60.3,254.5 58.6,255.4 57.6,256.8 57.1,258.7 55.7,260.0 55.0,261.8 53.9,264.5 52.2,264.2 50.4,263.7 48.6,264.5 46.9,264.2 45.2,263.6 43.4,263.5 41.3,263.5 39.1,263.8 37.1,262.9 36.3,264.7 37.2,266.4 37.1,268.2 39.2,268.2 41.3,268.2 43.5,268.4 45.5,269.2 47.2,268.5 49.0,268.4 50.8,268.2 48.9,268.8 47.6,270.3 46.2,271.6 45.5,273.4 44.6,275.6 43.4,277.6 41.6,279.3 39.2,279.7 39.9,281.6 41.3,282.9 42.7,284.1 43.3,285.8 44.5,287.1 46.2,288.3 46.6,290.3 45.8,292.3 45.5,294.5 46.7,295.9 47.6,297.6 48.2,299.7 48.7,301.8 47.7,303.3 46.8,304.8 45.5,306.1 47.6,308.2 46.5,310.3 45.5,312.4 43.4,313.4 42.4,315.5 41.9,317.4 40.3,318.7 39.5,320.9 38.2,322.9 37.7,325.3 36.0,327.1 34.7,328.3 34.0,330.0 34.3,328.4 33.6,326.8 33.9,325.2 34.3,323.5 34.3,321.9 33.5,320.3 34.7,318.7 34.5,317.1 33.5,315.5 34.7,313.9 34.5,312.2 34.6,310.6 34.2,309.0 33.7,307.4 34.8,305.8 34.3,304.2 33.9,302.6 33.8,300.9 34.9,299.3 34.1,297.7 34.3,296.1 34.4,294.5 34.7,292.9 34.4,291.3 33.7,289.7 34.4,288.0 34.3,286.4 34.4,284.8 34.6,283.2 33.9,281.6 33.8,280.0 33.7,278.4 34.0,276.7 33.6,275.1 34.6,273.5 34.0,271.9 33.9,270.3 33.7,268.7 34.0,267.1 33.9,265.4 34.1,263.8 34.4,262.2 34.5,260.6 35.0,259.0 35.2,257.4 33.7,255.8 34.0,254.1 34.7,252.5 33.9,250.9 35.1,249.3 34.1,247.7 34.9,246.1 34.8,244.5 35.0,242.9 33.8,241.2 34.1,239.6 34.9,238.0 33.9,236.4 33.8,234.8 34.4,233.2 34.7,231.6 33.9,229.9 33.9,228.3 33.9,226.7 34.5,225.1 34.9,223.5 34.2,221.9 35.3,220.3 34.6,218.6 34.9,217.0 34.4,215.4 34.9,213.8 35.4,212.2 34.6,210.6 34.3,209.0 34.6,207.3 34.7,205.7 34.8,204.1 34.8,202.5 34.1,200.9 34.3,199.3 34.7,197.7 35.2,196.1 35.3,194.4 35.3,192.8 34.9,191.2 35.6,189.6 34.6,188.0 34.9,186.4 35.3,184.8 35.5,183.1 34.8,181.5 35.5,179.9 34.8,178.3 35.3,176.7 34.2,175.1 34.2,173.5 35.7,171.8 34.3,170.2 35.2,168.6" fill="#c0c0c0" stroke="#000" stroke-width="0.6" stroke-linejoin="round"/>
<polygon points="35.0,5.0 36.7,5.1 38.3,5.3 40.0,4.7 41.6,5.0 43.3,5.6 44.9,5.6 46.6,4.4 48.2,4.5 49.9,4.3 51.5,4.9 53.2,4.2 54.8,4.9 56.5,5.2 58.2,4.6 59.8,5.3 61.5,5.1 63.1,4.2 64.8,5.1 66.4,4.6 68.1,4.9 69.7,4.7 71.4,5.3 73.0,4.9 74.7,4.5 76.3,5.1 78.0,5.0 78.1,6.9 79.3,8.4 79.9,10.1 80.0,12.0 81.7,12.8 82.8,14.6 84.4,15.6 86.3,16.2 88.0,17.0 88.4,19.0 89.5,20.6 91.0,22.0 90.6,23.7 90.4,25.4 89.0,26.7 88.5,28.4 88.0,30.0 87.9,31.7 87.8,33.4 87.1,35.0 86.7,36.7 86.7,38.4 86.0,40.0 86.6,41.6 86.5,43.3 86.1,45.1 86.8,46.7 87.5,48.3 87.7,50.0 87.6,51.7 88.2,53.3 88.0,55.0 88.7,56.6 88.4,58.3 89.3,59.9 88.9,61.7 89.3,63.3 89.0,65.0 89.2,66.7 89.5,68.4 90.0,70.0 90.0,71.7 90.9,73.3 90.7,75.1 91.6,76.6 91.6,78.4 92.3,79.9 92.4,81.6 93.4,83.2 93.0,85.0 93.7,86.6 92.9,88.5 94.4,89.9 94.0,91.7 94.4,93.4 94.6,95.1 95.4,96.7 95.5,98.4 96.0,100.0 96.6,101.7 96.5,103.4 96.1,105.0 96.1,106.7 96.1,108.4 95.9,110.0 95.1,111.7 95.6,113.4 95.0,115.0 93.9,116.5 94.0,118.2 93.8,119.9 93.2,121.4 93.5,123.2 92.1,124.6 91.8,126.3 92.0,128.0 91.3,129.6 91.4,131.3 90.5,132.9 90.3,134.6 90.1,136.3 89.4,137.9 89.5,139.6 89.5,141.4 88.9,143.0 89.1,144.8 88.8,146.4 88.0,148.0 85.9,148.3 83.9,148.9 82.0,150.0 81.3,148.2 79.9,147.1 78.3,146.2 77.0,145.0 76.5,146.7 75.0,147.7 74.0,149.0 71.8,148.8 70.0,150.0 69.4,148.5 68.0,147.5 66.9,146.3 66.0,145.0 64.7,146.2 63.2,147.0 61.8,147.9 60.0,148.0 58.4,147.2 56.7,147.4 54.9,148.1 53.3,147.5 51.6,147.9 50.0,147.0 48.0,147.6 46.0,147.0 44.0,147.5 42.1,146.5 40.0,146.0 38.0,146.0 36.0,146.4 34.0,146.0 34.3,144.4 34.8,142.8 33.9,141.2 33.4,139.6 33.3,138.0 33.4,136.4 34.8,134.8 34.2,133.2 34.6,131.6 33.6,130.0 33.7,128.4 34.4,126.8 34.8,125.2 33.9,123.6 33.5,122.0 34.8,120.4 33.9,118.8 34.6,117.2 33.7,115.6 34.5,114.0 34.8,112.4 34.6,110.8 34.0,109.1 34.6,107.5 33.7,105.9 34.0,104.3 34.2,102.7 34.9,101.1 33.8,99.5 34.9,97.9 34.8,96.3 35.1,94.7 34.2,93.1 33.9,91.5 34.0,89.9 34.9,88.3 35.2,86.7 34.7,85.1 34.4,83.5 34.1,81.9 35.0,80.3 35.1,78.7 33.8,77.1 34.0,75.5 35.0,73.9 35.1,72.3 34.2,70.7 34.2,69.1 34.4,67.5 34.6,65.9 33.9,64.3 35.1,62.7 34.7,61.1 35.1,59.5 34.2,57.9 35.4,56.3 35.0,54.7 34.4,53.1 35.4,51.5 35.0,49.9 35.2,48.3 34.0,46.7 34.0,45.1 35.1,43.5 34.4,41.9 34.8,40.3 34.2,38.6 35.5,37.1 34.8,35.4 35.3,33.8 34.1,32.2 34.8,30.6 34.1,29.0 35.5,27.4 34.8,25.8 34.2,24.2 34.2,22.6 34.9,21.0 34.2,19.4 34.4,17.8 34.8,16.2 34.9,14.6 35.1,13.0 35.1,11.4 34.8,9.8 35.2,8.2 34.4,6.6" fill="#c0c0c0" stroke="#000" stroke-width="0.6" stroke-linejoin="round"/>
<polygon points="100.0,5.0 125.0,5.0 124.0,10.0 118.0,14.0 105.0,14.0 101.0,10.0" fill="#c0c0c0" stroke="#000" stroke-width="0.6" stroke-linejoin="round"/>
<polygon points="135.0,5.0 149.0,5.0 147.0,10.0 140.0,14.0 136.0,10.0" fill="#c0c0c0" stroke="#000" stroke-width="0.6" stroke-linejoin="round"/>
<polygon points="263.4,200.6 265.2,198.2 267.0,196.4 268.3,194.5 268.8,192.2 270.0,191.2 273.0,191.6 274.6,192.6 276.0,194.0 276.2,196.2 277.2,198.2 279.0,200.6 279.4,198.8 280.8,197.6 282.0,195.2 283.3,196.5 283.8,198.2 285.6,195.8 287.4,194.0 289.8,195.8 291.6,194.6 294.0,194.6 296.4,193.4 297.7,192.3 298.8,191.0 300.6,190.4 302.4,192.2 304.8,191.6 306.6,191.6 306.0,194.6 307.8,197.0 309.3,198.2 310.8,199.4 311.8,201.2 312.6,203.0 312.5,204.8 312.0,206.6 311.3,208.0 310.8,209.6 309.7,210.9 308.2,211.8 307.2,213.2 305.4,214.7 303.6,216.2 301.7,217.3 300.0,218.6 298.1,219.7 296.4,221.0 294.3,221.4 292.8,222.8 290.6,223.0 288.6,224.0 287.1,223.5 285.6,222.8 284.0,221.5 282.0,221.0 280.6,220.0 279.0,219.8 276.0,219.2 274.1,219.4 272.4,218.6 270.0,217.4 270.6,215.6 273.0,214.4 272.4,211.4 273.6,209.6 271.2,208.4 269.4,208.1 267.6,208.4 264.6,207.8 265.2,206.6 266.8,206.8 268.4,206.5 270.0,206.0 271.6,205.6 273.0,204.8 273.6,203.0 271.2,202.4 268.2,201.8 265.2,201.8" fill="#c0c0c0" stroke="#000" stroke-width="0.6" stroke-linejoin="round"/>
<polygon points="338.0,33.6 339.0,32.0 340.6,30.9 343.3,29.6 344.5,28.1 345.3,26.3 347.3,25.6 348.0,23.0 346.6,21.0 347.3,18.3 348.6,16.3 351.3,15.0 353.3,13.0 354.9,12.2 356.6,11.6 358.6,11.5 360.6,11.0 362.6,12.3 362.4,14.0 363.2,15.6 362.9,17.6 362.6,19.6 363.2,22.3 362.2,23.6 361.3,24.9 358.6,25.6 355.9,26.3 356.6,28.9 358.4,29.2 359.9,30.3 361.9,29.6 363.9,30.9 365.9,31.6 368.6,32.3 370.6,31.7 372.6,31.6 374.5,33.6 375.2,35.2 375.9,36.9 374.5,38.9 372.6,38.2 371.9,40.2 369.9,41.6 368.6,39.6 365.9,40.2 365.4,41.9 365.2,43.6 365.6,45.7 366.6,47.6 367.7,49.2 368.6,50.9 369.3,52.8 369.2,54.9 367.2,55.5 365.4,54.7 363.9,53.5 362.5,52.1 360.6,51.5 359.1,50.7 357.9,49.5 356.9,47.9 355.9,46.2 353.3,46.2 351.7,45.5 349.9,45.6 347.3,44.2 345.7,43.6 344.6,42.2 343.4,41.1 342.0,40.2 341.0,38.6 339.3,37.6 338.0,34.9" fill="#c0c0c0" stroke="#000" stroke-width="0.6" stroke-linejoin="round"/>
<polygon points="370.0,17.0 372.4,17.2 372.0,19.6 370.2,19.4" fill="#c0c0c0" stroke="#000" stroke-width="0.6" stroke-linejoin="round"/>
<polygon points="369.2,21.8 371.2,21.6 371.0,23.0 369.4,23.0" fill="#c0c0c0" stroke="#000" stroke-width="0.6" stroke-linejoin="round"/>
<polygon points="466.0,64.0 465.3,64.2 463.6,64.9 463.1,67.2 461.1,67.6 459.8,68.5 458.5,69.5 457.7,71.0 456.0,71.0 454.3,71.6 452.6,71.0 451.1,72.0 449.2,71.9 447.7,72.7 447.4,74.6 445.8,75.3 443.6,74.7 442.4,72.7 440.3,72.3 438.2,72.7 436.3,72.8 435.8,75.3 433.9,75.3 432.2,75.7 430.5,76.1 428.9,77.1 428.1,78.8 427.1,80.4 424.6,82.1 423.6,83.9 423.9,86.1 422.9,88.0 421.1,88.7 420.4,90.5 419.5,92.6 419.5,94.8 418.6,96.9 417.8,99.0 417.6,101.0 416.1,102.4 416.1,104.1 415.2,105.7 415.3,107.5 415.2,109.2 415.0,110.9 414.4,112.6 414.4,114.3 414.1,116.0 413.6,117.7 413.6,119.4 412.6,121.0 411.9,122.8 410.9,124.8 411.0,127.0 410.2,128.9 409.5,130.8 409.1,132.8 410.6,134.4 411.4,136.1 411.0,138.1 412.7,139.3 414.4,140.4 415.3,142.4 415.5,144.2 417.6,144.9 417.3,146.9 418.3,148.3 418.8,150.1 418.9,152.0 420.6,153.3 419.9,155.5 421.2,157.0 421.8,158.7 421.4,160.7 422.7,162.3 422.6,164.2 422.1,166.0 423.4,167.5 424.0,169.2 423.8,171.0 424.7,172.6 424.1,174.4 423.9,176.5 425.7,178.1 425.5,180.2 424.7,181.8 422.8,182.6 422.6,184.6 420.4,184.1 418.8,185.6 416.8,186.0 415.5,187.2 415.8,189.2 414.5,190.3 413.9,191.9 412.7,193.5 413.1,195.5 412.6,197.3 412.4,199.1 412.5,201.3 411.2,202.9 411.0,204.9 409.5,206.4 409.4,208.4 408.9,210.3 408.1,212.2 408.3,214.2 410.4,215.5 410.4,217.6 411.0,219.5 412.1,220.8 412.2,222.5 413.4,223.7 413.9,225.3 415.4,226.3 414.7,228.5 415.6,229.9 416.8,231.1 417.1,233.0 418.9,233.9 419.7,235.5 421.0,237.1 422.6,238.4 424.1,239.8 425.9,240.4 427.8,240.1 429.6,240.5 431.3,241.3 433.3,240.7 435.0,241.5 436.8,242.2 438.0,240.6 439.9,239.9 441.3,238.6 442.3,236.9 443.1,235.0 444.0,233.2 444.2,231.2 444.4,229.2 445.9,227.7 446.9,225.9 445.8,224.1 446.1,222.3 447.2,220.5 446.2,218.6 446.1,216.8 446.5,215.0 447.2,216.5 448.0,218.0 448.9,220.1 450.0,222.0 450.5,223.9 452.2,225.0 454.2,225.7 454.9,227.7 456.8,228.5 458.6,229.5 460.1,230.9 462.2,231.4 464.0,232.3 466.0,233.0 466.4,231.4 466.2,229.8 465.1,228.2 465.7,226.6 466.1,225.0 465.6,223.3 466.0,221.7 466.3,220.1 465.3,218.5 465.1,216.9 465.7,215.3 465.2,213.7 465.4,212.1 466.8,210.5 465.7,208.9 465.4,207.2 466.5,205.6 465.2,204.0 466.5,202.4 465.9,200.8 466.2,199.2 465.3,197.6 465.4,196.0 466.3,194.4 465.1,192.8 465.5,191.2 466.1,189.5 465.5,187.9 465.8,186.3 466.8,184.7 466.9,183.1 466.1,181.5 466.1,179.9 465.0,178.3 467.0,176.7 466.1,175.1 466.6,173.4 466.1,171.8 466.8,170.2 466.2,168.6 466.4,167.0 465.3,165.4 465.9,163.8 466.4,162.2 465.2,160.6 465.9,159.0 465.3,157.4 466.0,155.7 466.6,154.1 465.2,152.5 466.6,150.9 466.1,149.3 466.2,147.7 465.4,146.1 465.9,144.5 465.6,142.9 465.1,141.3 465.1,139.6 465.9,138.0 466.5,136.4 466.1,134.8 465.8,133.2 465.3,131.6 466.7,130.0 466.2,128.4 466.6,126.8 466.7,125.2 466.2,123.6 466.6,121.9 466.2,120.3 465.0,118.7 466.5,117.1 465.4,115.5 465.9,113.9 466.0,112.3 466.0,110.7 466.7,109.1 465.3,107.5 465.0,105.8 466.7,104.2 466.5,102.6 465.9,101.0 465.8,99.4 465.2,97.8 465.7,96.2 465.2,94.6 466.4,93.0 465.2,91.4 465.4,89.8 466.1,88.1 465.6,86.5 466.3,84.9 466.6,83.3 465.7,81.7 465.2,80.1 466.6,78.5 466.6,76.9 465.8,75.3 466.7,73.7 465.8,72.0 465.5,70.4 466.7,68.8 466.5,67.2 466.0,65.6" fill="#c0c0c0" stroke="#000" stroke-width="0.6" stroke-linejoin="round"/>
<polygon points="454.0,235.9 456.0,237.0 457.6,238.6 458.7,239.9 458.9,241.6 459.5,243.1 459.9,245.0 460.8,246.7 461.3,248.6 461.6,250.4 462.4,252.1 462.2,254.0 462.4,255.8 462.2,257.7 462.5,259.5 463.1,261.3 463.3,263.2 464.0,264.9 466.0,265.0 466.4,266.6 465.6,268.3 465.6,269.9 466.3,271.6 465.9,273.2 466.5,274.9 466.0,276.5 464.0,277.0 463.1,275.8 461.9,274.7 461.3,273.1 459.8,271.4 458.6,269.5 456.9,267.9 455.8,265.8 455.1,263.9 454.3,262.1 453.1,260.4 452.1,258.6 451.1,256.8 450.4,254.9 449.2,253.6 448.2,252.1 447.7,250.4 448.2,248.6 448.4,246.8 448.6,245.0 449.1,243.0 450.4,241.3 451.3,239.5 452.6,237.6" fill="#c0c0c0" stroke="#000" stroke-width="0.6" stroke-linejoin="round"/>
<polygon points="466.0,278.5 464.1,279.3 462.1,279.3 460.2,280.0 458.9,281.5 457.4,282.8 456.0,283.8 454.6,284.9 451.8,286.3 450.2,287.7 448.3,288.4 446.7,289.2 445.5,290.5 444.1,293.3 444.8,295.4 444.8,297.6 445.5,299.6 445.5,301.8 444.8,303.8 444.1,305.8 444.1,308.0 445.1,309.6 445.5,311.5 444.2,312.7 442.7,313.6 441.2,314.9 439.9,316.4 438.2,317.5 437.1,319.2 435.5,320.4 434.3,322.0 432.9,324.8 433.6,326.5 433.6,328.3 433.9,330.7 434.3,333.0 436.0,333.0 437.6,333.0 439.3,333.2 441.0,332.7 442.6,333.2 444.3,332.6 446.0,332.7 447.6,332.7 449.3,332.8 451.0,333.1 452.7,333.0 454.3,333.3 456.0,332.8 457.7,333.2 459.3,333.2 461.0,332.9 462.7,332.9 464.3,333.4 466.0,333.0 466.1,331.4 466.4,329.8 466.2,328.2 466.3,326.6 465.9,325.0 466.0,323.4 465.9,321.8 466.4,320.2 465.7,318.6 466.4,317.0 465.9,315.4 465.9,313.8 466.0,312.2 465.9,310.6 466.0,309.0 465.6,307.4 465.7,305.8 466.2,304.1 466.1,302.5 465.6,300.9 465.8,299.3 465.8,297.7 465.6,296.1 466.0,294.5 465.9,292.9 465.6,291.3 466.1,289.7 466.2,288.1 465.7,286.5 465.8,284.9 466.1,283.3 466.0,281.7 466.0,280.1" fill="#c0c0c0" stroke="#000" stroke-width="0.6" stroke-linejoin="round"/>
<polygon points="367.9,263.9 370.0,263.2 371.9,261.9 373.9,261.8 375.9,262.3 376.6,263.8 377.9,264.9 377.7,266.6 377.9,268.3 378.8,269.8 380.4,269.1 382.2,268.7 383.8,267.9 385.5,267.9 387.2,267.4 388.8,266.9 389.8,269.8 388.9,271.7 389.0,274.0 387.8,275.8 387.7,277.8 387.7,279.8 386.8,281.7 385.4,283.0 384.8,284.7 386.5,284.5 388.1,284.9 389.8,284.7 391.7,286.7 393.4,287.5 394.7,288.7 396.1,289.6 397.7,290.2 398.7,291.7 400.6,292.3 402.2,293.7 404.2,294.0 406.5,294.7 408.4,296.1 410.0,297.3 411.2,298.9 411.8,300.6 413.3,301.7 414.8,302.8 415.4,304.5 416.9,306.0 417.5,308.0 419.6,305.9 421.4,305.7 423.1,305.2 424.7,306.3 426.6,306.6 428.1,307.6 428.7,309.4 428.4,311.5 428.7,313.6 427.3,314.8 426.6,316.4 425.2,319.2 427.1,319.4 428.7,320.6 430.1,322.7 429.4,325.5 427.9,326.8 426.6,328.3 424.5,329.0 422.4,329.7 419.6,331.1 418.2,333.0 416.6,333.0 415.0,332.5 413.3,333.6 411.7,333.3 410.1,332.7 408.5,333.2 406.9,333.3 405.2,332.8 403.6,332.5 402.0,333.3 400.4,333.1 398.8,333.3 397.1,333.1 395.5,332.9 393.9,332.7 392.3,333.5 390.7,332.8 389.0,332.9 387.4,333.4 385.8,333.0 385.7,331.0 386.2,329.2 386.8,327.4 388.1,326.1 389.8,325.4 391.7,323.4 391.2,321.6 389.8,320.4 387.9,319.3 385.8,318.5 385.0,316.6 384.8,314.5 386.3,313.6 387.8,312.5 389.3,311.0 390.8,309.5 389.8,307.7 389.8,305.6 389.1,303.9 387.8,302.6 385.8,300.6 384.3,300.0 382.8,299.2 379.8,299.6 376.9,298.6 375.9,295.6 373.9,294.6 371.9,292.7 370.9,289.7 371.9,287.7 369.9,285.7 368.9,282.7 368.1,281.2 367.9,279.5 367.9,277.8 367.4,275.8 366.9,273.8 367.6,271.9 367.9,269.8 366.9,266.9" fill="#c0c0c0" stroke="#000" stroke-width="0.6" stroke-linejoin="round"/>
<polygon points="346.6,317.6 347.1,316.1 347.6,314.5 349.3,314.2 350.9,313.8 352.2,312.5 353.9,312.4 354.8,310.2 356.1,308.2 357.5,306.9 358.2,305.0 359.8,303.4 361.3,301.8 362.5,300.6 364.0,299.6 366.0,299.1 367.9,298.6 370.9,299.6 372.9,301.6 374.1,302.9 374.9,304.6 373.9,307.5 372.9,310.5 373.6,312.2 374.9,313.5 375.7,315.1 376.2,316.8 376.9,318.5 377.4,320.1 376.7,321.8 376.9,323.4 376.9,325.1 375.8,326.6 375.9,328.4 375.5,330.7 374.9,333.0 373.2,332.7 371.6,332.7 369.9,332.6 368.3,333.4 366.6,333.2 365.0,333.0 363.4,332.8 361.7,333.2 360.1,332.8 358.4,332.8 356.8,333.3 355.1,333.2 353.4,332.6 351.8,333.0 350.7,331.6 350.6,329.7 349.7,328.2 350.4,326.4 351.8,325.0 350.4,323.2 348.7,321.8 347.9,319.6" fill="#c0c0c0" stroke="#000" stroke-width="0.6" stroke-linejoin="round"/>
<polygon points="358.2,267.1 361.3,265.0 362.4,268.2 360.3,274.5 358.2,278.7 356.1,276.6 357.1,271.3" fill="#c0c0c0" stroke="#000" stroke-width="0.6" stroke-linejoin="round"/>
<polygon points="362.5,274.0 365.5,275.0 366.0,278.0 363.5,278.5" fill="#c0c0c0" stroke="#000" stroke-width="0.6" stroke-linejoin="round"/>
<polygon points="366.5,289.5 369.0,290.0 368.5,293.0 366.5,292.5" fill="#c0c0c0" stroke="#000" stroke-width="0.6" stroke-linejoin="round"/>
<polygon points="381.0,303.0 383.0,302.6 383.8,305.0 382.0,307.5 380.8,305.5" fill="#c0c0c0" stroke="#000" stroke-width="0.6" stroke-linejoin="round"/>
<polygon points="376.9,252.0 379.8,251.6 379.2,255.0 378.8,258.9 376.9,259.5 375.9,256.0" fill="#c0c0c0" stroke="#000" stroke-width="0.6" stroke-linejoin="round"/>
<polygon points="382.0,233.5 383.6,234.0 383.4,237.5 384.0,240.8 382.3,240.5 381.6,237.0" fill="#c0c0c0" stroke="#000" stroke-width="0.6" stroke-linejoin="round"/>
<polygon points="348.4,226.4 350.0,226.8 350.4,230.0 349.8,236.0 348.6,235.0 348.2,231.0" fill="#c0c0c0" stroke="#000" stroke-width="0.6" stroke-linejoin="round"/>
<polygon points="320.8,141.8 324.6,136.6 325.6,137.2 322.0,142.4" fill="#c0c0c0" stroke="#000" stroke-width="0.6" stroke-linejoin="round"/>
<polygon points="277.3,149.1 267.3,148.2 261.8,145.5 257.3,143.6 254.5,144.5 257.3,146.4 261.8,149.1 265.5,150.9 274.5,152.7" fill="#cce5ee" stroke="#000" stroke-width="0.6" stroke-linejoin="round"/>
<polygon points="466.0,122.0 462.9,124.8 456.0,128.7 455.0,136.4 456.0,144.2 458.0,155.8 461.9,167.4 466.0,172.0" fill="#cce5ee" stroke="#000" stroke-width="0.6" stroke-linejoin="round"/>
<polyline points="283.0,31.0 278.6,37.7" fill="none" stroke="#000" stroke-width="0.7" stroke-linejoin="round"/>
<polyline points="258.6,5.0 259.5,8.0 261.0,10.4" fill="none" stroke="#000" stroke-width="0.7" stroke-linejoin="round"/>
<polyline points="230.0,5.0 231.0,9.0 229.0,13.0" fill="none" stroke="#000" stroke-width="0.7" stroke-linejoin="round"/>
<polyline points="240.0,5.0 242.0,10.0 241.0,15.0" fill="none" stroke="#000" stroke-width="0.7" stroke-linejoin="round"/>
<polyline points="248.0,5.0 247.0,9.0 250.0,14.0 249.0,18.0" fill="none" stroke="#000" stroke-width="0.7" stroke-linejoin="round"/>
<polyline points="277.3,125.5 271.0,120.0 264.0,118.5" fill="none" stroke="#000" stroke-width="0.7" stroke-linejoin="round"/>
<polyline points="276.4,120.0 270.0,113.0 263.0,111.5" fill="none" stroke="#000" stroke-width="0.7" stroke-linejoin="round"/>
<polyline points="282.7,110.0 276.0,104.0 272.0,104.0" fill="none" stroke="#000" stroke-width="0.7" stroke-linejoin="round"/>
<polyline points="277.3,139.1 270.0,133.0 266.0,131.0" fill="none" stroke="#000" stroke-width="0.7" stroke-linejoin="round"/>
<polyline points="243.4,169.2 249.0,175.0 255.0,181.0 263.0,189.0 268.0,195.0" fill="none" stroke="#000" stroke-width="2.6" stroke-linecap="butt" stroke-linejoin="round"/>
<polyline points="308.0,213.2 316.0,217.0 324.0,220.4 336.0,225.2 349.2,230.0 364.7,234.8 382.7,238.8 398.3,236.0 412.7,233.6 417.5,232.4" fill="none" stroke="#000" stroke-width="2.6" stroke-linecap="butt" stroke-linejoin="round"/>
<polyline points="282.5,59.6 296.0,58.4 311.0,56.0 323.0,52.4 332.0,48.5 339.5,45.5" fill="none" stroke="#000" stroke-width="2.6" stroke-dasharray="8.5 4.3"/>
<polyline points="364.0,46.0 418.0,103.0" fill="none" stroke="#000" stroke-width="2.6" stroke-dasharray="8.5 4.3"/>
<polyline points="379.5,262.0 416.5,233.5" fill="none" stroke="#999" stroke-width="2.6" stroke-dasharray="8.5 4.3"/>
<polyline points="54.5,265.3 63.0,269.0 74.0,273.5 86.0,275.0 96.0,274.8 114.0,255.3 131.5,236.0 134.0,232.5 149.0,230.0 157.0,233.0 160.4,235.2" fill="none" stroke="#f00" stroke-width="3" stroke-dasharray="11 5" stroke-linejoin="round"/>
<polyline points="160.4,235.2 179.0,244.2 199.3,256.4 209.7,261.1 221.4,265.5 230.5,270.7 242.2,276.7 256.8,279.4 276.4,281.0 286.2,282.2 296.0,281.6 314.2,278.8 324.0,282.2 346.4,283.3 367.4,284.4" fill="none" stroke="#f00" stroke-width="4" stroke-linejoin="round"/>
<polyline points="261.0,279.6 276.4,281.0 286.2,282.2 296.0,281.6 314.2,278.8" fill="none" stroke="#0f0" stroke-width="3.2" stroke-dasharray="9 5"/>
<polygon points="74.5,271.4 97.0,271.8 97.0,278.2 74.5,278.2" fill="#ff0"/>
<polygon points="131.0,228.6 149.0,226.2 149.6,232.6 131.0,235.4" fill="#ff0"/>
<polygon points="160.4,231.6 181.4,238.6 182.5,243.5 179.0,247.6 158.6,237.2 157.8,234.0" fill="#ff0"/>
<path d="M71.4 269.7l7.2 7.2M71.4 276.9l7.2 -7.2M72.9 270.4l7.2 7.2M72.9 277.6l7.2 -7.2M74.7 269.5l7.2 7.2M74.7 276.7l7.2 -7.2M76.2 270.3l7.2 7.2M76.2 277.5l7.2 -7.2M77.7 271.6l7.2 7.2M77.7 278.8l7.2 -7.2M79.3 271.9l7.2 7.2M79.3 279.1l7.2 -7.2M81.2 269.9l7.2 7.2M81.2 277.1l7.2 -7.2M82.8 270.4l7.2 7.2M82.8 277.6l7.2 -7.2M84.5 270.2l7.2 7.2M84.5 277.4l7.2 -7.2M86.0 271.5l7.2 7.2M86.0 278.7l7.2 -7.2M87.7 270.6l7.2 7.2M87.7 277.8l7.2 -7.2M89.2 272.0l7.2 7.2M89.2 279.2l7.2 -7.2M90.7 272.8l7.2 7.2M90.7 280.0l7.2 -7.2M92.5 272.0l7.2 7.2M92.5 279.2l7.2 -7.2M127.5 228.5l7.2 7.2M127.5 235.7l7.2 -7.2M129.0 228.0l7.2 7.2M129.0 235.2l7.2 -7.2M130.3 226.0l7.2 7.2M130.3 233.2l7.2 -7.2M132.1 227.5l7.2 7.2M132.1 234.7l7.2 -7.2M133.5 226.3l7.2 7.2M133.5 233.5l7.2 -7.2M135.1 226.6l7.2 7.2M135.1 233.8l7.2 -7.2M136.6 226.0l7.2 7.2M136.6 233.2l7.2 -7.2M138.3 227.0l7.2 7.2M138.3 234.2l7.2 -7.2M139.7 226.0l7.2 7.2M139.7 233.2l7.2 -7.2M141.2 224.9l7.2 7.2M141.2 232.1l7.2 -7.2M142.9 226.0l7.2 7.2M142.9 233.2l7.2 -7.2M144.5 226.5l7.2 7.2M144.5 233.7l7.2 -7.2M158.7 231.2l7.2 7.2M158.7 238.4l7.2 -7.2M160.3 231.6l7.2 7.2M160.3 238.8l7.2 -7.2M161.4 232.9l7.2 7.2M161.4 240.1l7.2 -7.2M161.8 235.5l7.2 7.2M161.8 242.7l7.2 -7.2M163.1 236.4l7.2 7.2M163.1 243.6l7.2 -7.2M165.0 236.0l7.2 7.2M165.0 243.2l7.2 -7.2M166.0 237.5l7.2 7.2M166.0 244.7l7.2 -7.2M167.5 238.0l7.2 7.2M167.5 245.2l7.2 -7.2M169.7 237.0l7.2 7.2M169.7 244.2l7.2 -7.2M171.6 236.7l7.2 7.2M171.6 243.9l7.2 -7.2M172.0 239.4l7.2 7.2M172.0 246.6l7.2 -7.2M173.5 239.7l7.2 7.2M173.5 246.9l7.2 -7.2M175.3 239.7l7.2 7.2M175.3 246.9l7.2 -7.2M176.9 239.9l7.2 7.2M176.9 247.1l7.2 -7.2M172.4 244.9l7.2 7.2M172.4 252.1l7.2 -7.2M175.4 245.9l7.2 7.2M175.4 253.1l7.2 -7.2M181.4 244.2l7.2 7.2M181.4 251.4l7.2 -7.2M183.2 243.0l7.2 7.2M183.2 250.2l7.2 -7.2M186.6 243.0l7.2 7.2M186.6 250.2l7.2 -7.2M195.7 252.8l7.2 7.2M195.7 260.0l7.2 -7.2M202.2 255.4l7.2 7.2M202.2 262.6l7.2 -7.2M206.1 257.5l7.2 7.2M206.1 264.7l7.2 -7.2M210.0 258.8l7.2 7.2M210.0 266.0l7.2 -7.2M213.9 260.1l7.2 7.2M213.9 267.3l7.2 -7.2M217.8 261.9l7.2 7.2M217.8 269.1l7.2 -7.2M220.4 263.2l7.2 7.2M220.4 270.4l7.2 -7.2M223.0 264.5l7.2 7.2M223.0 271.7l7.2 -7.2M226.9 267.1l7.2 7.2M226.9 274.3l7.2 -7.2M230.8 269.7l7.2 7.2M230.8 276.9l7.2 -7.2M234.7 271.0l7.2 7.2M234.7 278.2l7.2 -7.2M238.6 273.1l7.2 7.2M238.6 280.3l7.2 -7.2M253.6 275.6l7.2 7.2M253.6 282.8l7.2 -7.2M273.0 276.6l7.2 7.2M273.0 283.8l7.2 -7.2M323.8 278.8l7.2 7.2M323.8 286.0l7.2 -7.2M342.3 279.7l7.2 7.2M342.3 286.9l7.2 -7.2" stroke="#ff0" stroke-width="1.9" fill="none"/>
</g>
<rect x="35.5" y="5.5" width="428.7" height="326" fill="none" stroke="#333" stroke-width="0.9"/>
<rect x="28.00" y="352.5" width="22.60" height="16" fill="#cce5ee"/>
<rect x="50.20" y="352.5" width="22.60" height="16" fill="#aed7e4"/>
<rect x="72.40" y="352.5" width="22.60" height="16" fill="#93c9db"/>
<rect x="94.60" y="352.5" width="22.60" height="16" fill="#75bad1"/>
<rect x="116.80" y="352.5" width="22.60" height="16" fill="#57abc7"/>
<rect x="139.00" y="352.5" width="22.60" height="16" fill="#3c9ebe"/>
<rect x="161.20" y="352.5" width="22.60" height="16" fill="#1e8eb4"/>
<rect x="183.40" y="352.5" width="22.60" height="16" fill="#0381ab"/>
<rect x="205.60" y="352.5" width="22.60" height="16" fill="#0072a1"/>
<rect x="227.80" y="352.5" width="22.60" height="16" fill="#006397"/>
<rect x="250.00" y="352.5" width="22.60" height="16" fill="#00568e"/>
<rect x="272.20" y="352.5" width="22.60" height="16" fill="#004684"/>
<rect x="294.40" y="352.5" width="22.60" height="16" fill="#00397b"/>
<rect x="316.60" y="352.5" width="22.60" height="16" fill="#002a71"/>
<rect x="338.80" y="352.5" width="22.60" height="16" fill="#001b67"/>
<rect x="361.00" y="352.5" width="22.60" height="16" fill="#000e5e"/>
<rect x="383.20" y="352.5" width="22.60" height="16" fill="#000154"/>
<rect x="405.40" y="352.5" width="22.60" height="16" fill="#000f4b"/>
<rect x="427.60" y="352.5" width="22.60" height="16" fill="#001e41"/>
<rect x="449.80" y="352.5" width="22.60" height="16" fill="#002d37"/>
<polygon points="28.3,352.5 6,360.5 28.3,368.5" fill="#dbedf3"/>
<polygon points="471.7,352.5 494,360.5 471.7,368.5" fill="#003333"/>
<polygon points="28,352.5 6,360.5 28,368.5 472,368.5 494,360.5 472,352.5" fill="none" stroke="#000" stroke-width="0.9"/>
<line x1="28.00" y1="368.5" x2="28.00" y2="373" stroke="#000" stroke-width="0.9"/>
<text x="28.00" y="388.3" font-size="14.4" text-anchor="middle">0</text>
<line x1="94.60" y1="368.5" x2="94.60" y2="373" stroke="#000" stroke-width="0.9"/>
<text x="94.60" y="388.3" font-size="14.4" text-anchor="middle">750</text>
<line x1="161.20" y1="368.5" x2="161.20" y2="373" stroke="#000" stroke-width="0.9"/>
<text x="161.20" y="388.3" font-size="14.4" text-anchor="middle">1500</text>
<line x1="227.80" y1="368.5" x2="227.80" y2="373" stroke="#000" stroke-width="0.9"/>
<text x="227.80" y="388.3" font-size="14.4" text-anchor="middle">2250</text>
<line x1="294.40" y1="368.5" x2="294.40" y2="373" stroke="#000" stroke-width="0.9"/>
<text x="294.40" y="388.3" font-size="14.4" text-anchor="middle">3000</text>
<line x1="361.00" y1="368.5" x2="361.00" y2="373" stroke="#000" stroke-width="0.9"/>
<text x="361.00" y="388.3" font-size="14.4" text-anchor="middle">3750</text>
<line x1="427.60" y1="368.5" x2="427.60" y2="373" stroke="#000" stroke-width="0.9"/>
<text x="427.60" y="388.3" font-size="14.4" text-anchor="middle">4500</text>
<text x="249.6" y="404.6" font-size="12" text-anchor="middle">Depth (m)</text>
<rect x="44.5" y="14.5" width="163" height="178.7" rx="3.5" fill="#fff" fill-opacity="0.8" stroke="#ccc" stroke-opacity="0.8" stroke-width="1"/>
<line x1="51" y1="27.6" x2="84.2" y2="27.6" stroke="#f00" stroke-width="3.9" stroke-linecap="square"/>
<text x="97.6" y="34.2" font-size="16.6">OSNAP East</text>
<line x1="51" y1="52.6" x2="84.2" y2="52.6" stroke="#f00" stroke-width="3" stroke-dasharray="11 5"/>
<text x="97.6" y="59.2" font-size="16.6">OSNAP West</text>
<line x1="51" y1="77.6" x2="84.2" y2="77.6" stroke="#000" stroke-width="2.7" stroke-linecap="square"/>
<text x="97.6" y="84.2" font-size="16.6">GSR</text>
<line x1="51" y1="102.6" x2="84.2" y2="102.6" stroke="#000" stroke-width="2.7" stroke-dasharray="8.5 4.3"/>
<text x="97.6" y="109.2" font-size="16.6">Fram+BSO</text>
<line x1="51" y1="127.6" x2="84.2" y2="127.6" stroke="#999" stroke-width="2.7" stroke-dasharray="8.5 4.3"/>
<text x="97.6" y="134.2" font-size="16.6">ScoNo</text>
<path d="M63.7 149.9l7.2 7.2M63.7 157.1l7.2 -7.2" stroke="#ff0" stroke-width="1.9" fill="none"/>
<text x="97.6" y="159.2" font-size="16.6">Moorings</text>
<line x1="51" y1="177.6" x2="84.2" y2="177.6" stroke="#0f0" stroke-width="3" stroke-dasharray="11 5"/>
<text x="97.6" y="184.2" font-size="16.6">Glider</text>
</svg>
</body></html>
